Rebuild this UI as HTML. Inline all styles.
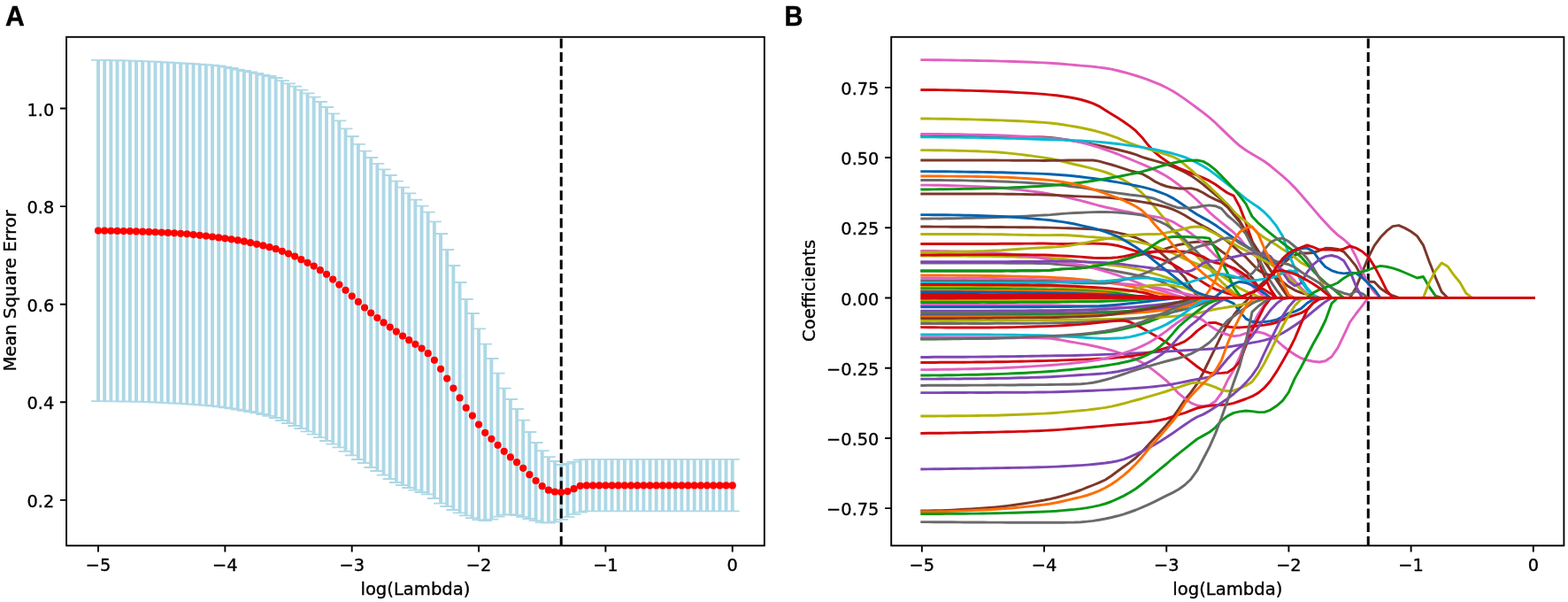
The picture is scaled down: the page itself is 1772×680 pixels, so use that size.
<!DOCTYPE html>
<html lang="en"><head><meta charset="utf-8"><title>LASSO regression: cross-validation error and coefficient paths</title>
<style>html,body{margin:0;padding:0;background:#fff}body{width:1772px;height:680px;overflow:hidden}svg{display:block}text{font-family:"DejaVu Sans","Liberation Sans",sans-serif;fill:#000;stroke:#000;stroke-width:0.35;stroke-linejoin:round}.pan{font-family:"Liberation Sans",Arial,Helvetica,sans-serif;font-weight:bold;font-size:30.2px;stroke:#000;stroke-width:0.4}.tk{font-size:19.6px}.lab{font-size:19.6px}.ln path{fill:none;stroke-width:2.95;stroke-linejoin:round;stroke-linecap:square}</style></head><body>
<svg width="1772" height="680" viewBox="0 0 1772 680">
<rect width="1772" height="680" fill="#fff"/>
<text class="pan" transform="translate(6.0 28.75) scale(1 1.02)">A</text>
<text class="pan" transform="translate(886.4 28.75) scale(0.96 1.02)">B</text>
<g>
<path d="M111 67.9V453.2M118.17 67.97V453.22M125.33 68.08V453.28M132.5 68.23V453.37M139.67 68.4V453.48M146.84 68.59V453.6M154 68.8V453.75M161.17 69.05V453.96M168.34 69.36V454.22M175.5 69.71V454.5M182.67 70.1V454.8M189.84 70.5V455.12M197.01 70.9V455.49M204.17 71.31V455.89M211.34 71.75V456.33M218.51 72.2V456.8M225.68 72.63V457.32M232.84 73.06V457.92M240.01 73.6V458.6M247.18 74.4V459.43M254.34 75.6V460.4M261.51 77V461.46M268.68 78.6V462.6M275.85 80V463.75M283.01 81.4V465M290.18 82.8V466.4M297.35 84.6V468M304.51 86V469.81M311.68 88V472M318.85 91.2V475M326.02 94.4V478M333.18 97.6V481M340.35 101.6V484M347.52 105.4V487.4M354.68 109.6V490.6M361.85 115V494.2M369.02 121V498M376.19 128.4V501.6M383.35 136.4V505.4M390.52 145.4V509.8M397.69 154V514.4M404.86 162.8V519M412.02 170.6V523M419.19 178V528M426.36 184.8V532M433.52 191.4V536.6M440.69 198V541M447.86 204.6V545M455.03 211.6V548M462.19 218.4V551M469.36 225.6V553.6M476.53 232.6V556M483.69 239.6V558.4M490.86 250.4V563M498.03 264V568.6M505.2 282V572M512.36 300V576M519.53 319V579.4M526.7 338V582.3M533.86 354V585.2M541.03 371.4V587.2M548.2 388.6V588.1M555.37 405V586.6M562.53 421.6V583.6M569.7 438.6V581.6M576.87 451V581.2M584.04 462V582M591.2 474.6V583.9M598.37 488V586M605.54 500V588.2M612.7 509.2V590.2M619.87 516.2V590.5M627.04 521V589.4M634.21 525V586.8M641.37 523.6V583.8M648.54 521.6V580.9M655.71 519.4V578.7M662.87 518.8V577.4M670.04 518.8V577.4M677.21 518.8V577.4M684.38 518.8V577.4M691.54 518.8V577.4M698.71 518.8V577.4M705.88 518.8V577.4M713.04 518.8V577.4M720.21 518.8V577.4M727.38 518.8V577.4M734.55 518.8V577.4M741.71 518.8V577.4M748.88 518.8V577.4M756.05 518.8V577.4M763.22 518.8V577.4M770.38 518.8V577.4M777.55 518.8V577.4M784.72 518.8V577.4M791.88 518.8V577.4M799.05 518.8V577.4M806.22 518.8V577.4M813.39 518.8V577.4M820.55 518.8V577.4M827.72 518.8V577.4" stroke="#add8e6" stroke-width="3.9" fill="none"/>
<path d="M103 67.9h16M103 453.2h16M110.17 67.97h16M110.17 453.22h16M117.33 68.08h16M117.33 453.28h16M124.5 68.23h16M124.5 453.37h16M131.67 68.4h16M131.67 453.48h16M138.84 68.59h16M138.84 453.6h16M146 68.8h16M146 453.75h16M153.17 69.05h16M153.17 453.96h16M160.34 69.36h16M160.34 454.22h16M167.5 69.71h16M167.5 454.5h16M174.67 70.1h16M174.67 454.8h16M181.84 70.5h16M181.84 455.12h16M189.01 70.9h16M189.01 455.49h16M196.17 71.31h16M196.17 455.89h16M203.34 71.75h16M203.34 456.33h16M210.51 72.2h16M210.51 456.8h16M217.68 72.63h16M217.68 457.32h16M224.84 73.06h16M224.84 457.92h16M232.01 73.6h16M232.01 458.6h16M239.18 74.4h16M239.18 459.43h16M246.34 75.6h16M246.34 460.4h16M253.51 77h16M253.51 461.46h16M260.68 78.6h16M260.68 462.6h16M267.85 80h16M267.85 463.75h16M275.01 81.4h16M275.01 465h16M282.18 82.8h16M282.18 466.4h16M289.35 84.6h16M289.35 468h16M296.51 86h16M296.51 469.81h16M303.68 88h16M303.68 472h16M310.85 91.2h16M310.85 475h16M318.02 94.4h16M318.02 478h16M325.18 97.6h16M325.18 481h16M332.35 101.6h16M332.35 484h16M339.52 105.4h16M339.52 487.4h16M346.68 109.6h16M346.68 490.6h16M353.85 115h16M353.85 494.2h16M361.02 121h16M361.02 498h16M368.19 128.4h16M368.19 501.6h16M375.35 136.4h16M375.35 505.4h16M382.52 145.4h16M382.52 509.8h16M389.69 154h16M389.69 514.4h16M396.86 162.8h16M396.86 519h16M404.02 170.6h16M404.02 523h16M411.19 178h16M411.19 528h16M418.36 184.8h16M418.36 532h16M425.52 191.4h16M425.52 536.6h16M432.69 198h16M432.69 541h16M439.86 204.6h16M439.86 545h16M447.03 211.6h16M447.03 548h16M454.19 218.4h16M454.19 551h16M461.36 225.6h16M461.36 553.6h16M468.53 232.6h16M468.53 556h16M475.69 239.6h16M475.69 558.4h16M482.86 250.4h16M482.86 563h16M490.03 264h16M490.03 568.6h16M497.2 282h16M497.2 572h16M504.36 300h16M504.36 576h16M511.53 319h16M511.53 579.4h16M518.7 338h16M518.7 582.3h16M525.86 354h16M525.86 585.2h16M533.03 371.4h16M533.03 587.2h16M540.2 388.6h16M540.2 588.1h16M547.37 405h16M547.37 586.6h16M554.53 421.6h16M554.53 583.6h16M561.7 438.6h16M561.7 581.6h16M568.87 451h16M568.87 581.2h16M576.04 462h16M576.04 582h16M583.2 474.6h16M583.2 583.9h16M590.37 488h16M590.37 586h16M597.54 500h16M597.54 588.2h16M604.7 509.2h16M604.7 590.2h16M611.87 516.2h16M611.87 590.5h16M619.04 521h16M619.04 589.4h16M626.21 525h16M626.21 586.8h16M633.37 523.6h16M633.37 583.8h16M640.54 521.6h16M640.54 580.9h16M647.71 519.4h16M647.71 578.7h16M654.87 518.8h16M654.87 577.4h16M662.04 518.8h16M662.04 577.4h16M669.21 518.8h16M669.21 577.4h16M676.38 518.8h16M676.38 577.4h16M683.54 518.8h16M683.54 577.4h16M690.71 518.8h16M690.71 577.4h16M697.88 518.8h16M697.88 577.4h16M705.04 518.8h16M705.04 577.4h16M712.21 518.8h16M712.21 577.4h16M719.38 518.8h16M719.38 577.4h16M726.55 518.8h16M726.55 577.4h16M733.71 518.8h16M733.71 577.4h16M740.88 518.8h16M740.88 577.4h16M748.05 518.8h16M748.05 577.4h16M755.22 518.8h16M755.22 577.4h16M762.38 518.8h16M762.38 577.4h16M769.55 518.8h16M769.55 577.4h16M776.72 518.8h16M776.72 577.4h16M783.88 518.8h16M783.88 577.4h16M791.05 518.8h16M791.05 577.4h16M798.22 518.8h16M798.22 577.4h16M805.39 518.8h16M805.39 577.4h16M812.55 518.8h16M812.55 577.4h16M819.72 518.8h16M819.72 577.4h16" stroke="#add8e6" stroke-width="1.8" fill="none"/>
</g>
<line x1="634.21" x2="634.21" y1="43.5" y2="616.35" stroke="#000" stroke-width="3" stroke-dasharray="10.9 4.72"/>
<g fill="#ff0000"><circle cx="111" cy="260.6" r="4.1"/><circle cx="118.17" cy="260.66" r="4.1"/><circle cx="125.33" cy="260.76" r="4.1"/><circle cx="132.5" cy="260.89" r="4.1"/><circle cx="139.67" cy="261.04" r="4.1"/><circle cx="146.84" cy="261.2" r="4.1"/><circle cx="154" cy="261.4" r="4.1"/><circle cx="161.17" cy="261.65" r="4.1"/><circle cx="168.34" cy="261.95" r="4.1"/><circle cx="175.5" cy="262.27" r="4.1"/><circle cx="182.67" cy="262.6" r="4.1"/><circle cx="189.84" cy="262.95" r="4.1"/><circle cx="197.01" cy="263.34" r="4.1"/><circle cx="204.17" cy="263.8" r="4.1"/><circle cx="211.34" cy="264.37" r="4.1"/><circle cx="218.51" cy="265.06" r="4.1"/><circle cx="225.68" cy="265.8" r="4.1"/><circle cx="232.84" cy="266.6" r="4.1"/><circle cx="240.01" cy="267.48" r="4.1"/><circle cx="247.18" cy="268.4" r="4.1"/><circle cx="254.34" cy="269.33" r="4.1"/><circle cx="261.51" cy="270.3" r="4.1"/><circle cx="268.68" cy="271.4" r="4.1"/><circle cx="275.85" cy="272.71" r="4.1"/><circle cx="283.01" cy="274.21" r="4.1"/><circle cx="290.18" cy="275.8" r="4.1"/><circle cx="297.35" cy="277.43" r="4.1"/><circle cx="304.51" cy="279.18" r="4.1"/><circle cx="311.68" cy="281.2" r="4.1"/><circle cx="318.85" cy="283.8" r="4.1"/><circle cx="326.02" cy="286.6" r="4.1"/><circle cx="333.18" cy="289.6" r="4.1"/><circle cx="340.35" cy="293.2" r="4.1"/><circle cx="347.52" cy="296.8" r="4.1"/><circle cx="354.68" cy="300.6" r="4.1"/><circle cx="361.85" cy="305.2" r="4.1"/><circle cx="369.02" cy="309.8" r="4.1"/><circle cx="376.19" cy="315.6" r="4.1"/><circle cx="383.35" cy="321.6" r="4.1"/><circle cx="390.52" cy="327.8" r="4.1"/><circle cx="397.69" cy="334.6" r="4.1"/><circle cx="404.86" cy="340.9" r="4.1"/><circle cx="412.02" cy="347.5" r="4.1"/><circle cx="419.19" cy="353.5" r="4.1"/><circle cx="426.36" cy="359" r="4.1"/><circle cx="433.52" cy="364.4" r="4.1"/><circle cx="440.69" cy="369.6" r="4.1"/><circle cx="447.86" cy="374.6" r="4.1"/><circle cx="455.03" cy="379.6" r="4.1"/><circle cx="462.19" cy="384.2" r="4.1"/><circle cx="469.36" cy="388.8" r="4.1"/><circle cx="476.53" cy="393.6" r="4.1"/><circle cx="483.69" cy="399.2" r="4.1"/><circle cx="490.86" cy="406.8" r="4.1"/><circle cx="498.03" cy="416.8" r="4.1"/><circle cx="505.2" cy="427.6" r="4.1"/><circle cx="512.36" cy="438.6" r="4.1"/><circle cx="519.53" cy="449.4" r="4.1"/><circle cx="526.7" cy="460.7" r="4.1"/><circle cx="533.86" cy="469.6" r="4.1"/><circle cx="541.03" cy="479.6" r="4.1"/><circle cx="548.2" cy="488.8" r="4.1"/><circle cx="555.37" cy="495.8" r="4.1"/><circle cx="562.53" cy="502.8" r="4.1"/><circle cx="569.7" cy="509.8" r="4.1"/><circle cx="576.87" cy="516.4" r="4.1"/><circle cx="584.04" cy="522.2" r="4.1"/><circle cx="591.2" cy="528.8" r="4.1"/><circle cx="598.37" cy="536.2" r="4.1"/><circle cx="605.54" cy="543" r="4.1"/><circle cx="612.7" cy="549.2" r="4.1"/><circle cx="619.87" cy="553.7" r="4.1"/><circle cx="627.04" cy="555.5" r="4.1"/><circle cx="634.21" cy="556.1" r="4.1"/><circle cx="641.37" cy="555.1" r="4.1"/><circle cx="648.54" cy="552.2" r="4.1"/><circle cx="655.71" cy="548.8" r="4.1"/><circle cx="662.87" cy="548.4" r="4.1"/><circle cx="670.04" cy="548.4" r="4.1"/><circle cx="677.21" cy="548.4" r="4.1"/><circle cx="684.38" cy="548.4" r="4.1"/><circle cx="691.54" cy="548.4" r="4.1"/><circle cx="698.71" cy="548.4" r="4.1"/><circle cx="705.88" cy="548.4" r="4.1"/><circle cx="713.04" cy="548.4" r="4.1"/><circle cx="720.21" cy="548.4" r="4.1"/><circle cx="727.38" cy="548.4" r="4.1"/><circle cx="734.55" cy="548.4" r="4.1"/><circle cx="741.71" cy="548.4" r="4.1"/><circle cx="748.88" cy="548.4" r="4.1"/><circle cx="756.05" cy="548.4" r="4.1"/><circle cx="763.22" cy="548.4" r="4.1"/><circle cx="770.38" cy="548.4" r="4.1"/><circle cx="777.55" cy="548.4" r="4.1"/><circle cx="784.72" cy="548.4" r="4.1"/><circle cx="791.88" cy="548.4" r="4.1"/><circle cx="799.05" cy="548.4" r="4.1"/><circle cx="806.22" cy="548.4" r="4.1"/><circle cx="813.39" cy="548.4" r="4.1"/><circle cx="820.55" cy="548.4" r="4.1"/><circle cx="827.72" cy="548.4" r="4.1"/></g>
<rect x="75.05" y="41.78" width="788.8" height="574.57" fill="none" stroke="#000" stroke-width="1.9"/>
<path d="M111 616.35v7.1M254.34 616.35v7.1M397.69 616.35v7.1M541.03 616.35v7.1M684.38 616.35v7.1M827.72 616.35v7.1M75.05 564.9h-7.1M75.05 454.3h-7.1M75.05 343.7h-7.1M75.05 233.1h-7.1M75.05 122.5h-7.1" stroke="#000" stroke-width="1.9" fill="none"/>
<text class="tk" transform="translate(111 645.3) scale(0.987 1.025)" text-anchor="middle">−5</text>
<text class="tk" transform="translate(254.34 645.3) scale(0.987 1.025)" text-anchor="middle">−4</text>
<text class="tk" transform="translate(397.69 645.3) scale(0.987 1.025)" text-anchor="middle">−3</text>
<text class="tk" transform="translate(541.03 645.3) scale(0.987 1.025)" text-anchor="middle">−2</text>
<text class="tk" transform="translate(684.38 645.3) scale(0.987 1.025)" text-anchor="middle">−1</text>
<text class="tk" transform="translate(827.72 645.3) scale(0.987 1.025)" text-anchor="middle">0</text>
<text class="tk" transform="translate(61.25 572.9) scale(0.987 1.025)" text-anchor="end">0.2</text>
<text class="tk" transform="translate(61.25 462.3) scale(0.987 1.025)" text-anchor="end">0.4</text>
<text class="tk" transform="translate(61.25 351.7) scale(0.987 1.025)" text-anchor="end">0.6</text>
<text class="tk" transform="translate(61.25 241.1) scale(0.987 1.025)" text-anchor="end">0.8</text>
<text class="tk" transform="translate(61.25 130.5) scale(0.987 1.025)" text-anchor="end">1.0</text>
<text class="lab" transform="translate(469.45 671.5) scale(1 1.02)" text-anchor="middle">log(Lambda)</text>
<text class="lab" transform="translate(18.3 328.37) rotate(-90) scale(1 1.02)" text-anchor="middle">Mean Square Error</text>
<line x1="1546.24" x2="1546.24" y1="43.5" y2="616.35" stroke="#000" stroke-width="3" stroke-dasharray="10.9 4.72"/>
<g class="ln">
<path d="M1041.8 153.3L1048.8 153.4L1055.7 153.4L1062.6 153.5L1069.5 153.5L1076.4 153.6L1083.3 153.7L1090.2 153.7L1097.1 153.8L1104.0 153.9L1110.9 154.0L1117.9 154.0L1124.8 154.1L1131.7 154.2L1138.6 154.3L1145.5 154.3L1152.4 154.4L1159.3 154.5L1166.2 154.7L1173.1 154.8L1180.0 155.0L1186.9 155.4L1193.9 156.2L1200.8 157.2L1207.7 158.3L1214.6 159.4L1221.5 160.5L1228.4 161.7L1235.3 163.1L1242.2 164.5L1249.1 166.0L1256.0 167.5L1263.0 169.0L1269.9 170.7L1276.8 172.5L1283.7 174.6L1290.6 177.3L1297.5 179.5L1304.4 181.4L1311.3 183.3L1318.2 185.5L1325.1 188.2L1332.0 191.1L1339.0 194.5L1345.9 198.4L1352.8 203.1L1359.7 208.4L1366.6 214.2L1373.5 219.8L1380.4 225.3L1387.3 231.0L1394.2 238.9L1401.1 249.9L1408.1 261.6L1415.0 273.1L1421.9 283.4L1428.8 293.8L1435.7 305.1L1442.6 316.4L1449.5 326.8L1456.4 336.5L1732.8 336.5" stroke="#7c382a"/>
<path d="M1041.8 577.0L1048.8 577.0L1055.7 576.8L1062.6 576.6L1069.5 576.4L1076.4 576.1L1083.3 575.7L1090.2 575.3L1097.1 574.9L1104.0 574.4L1110.9 574.0L1117.9 573.5L1124.8 572.9L1131.7 572.2L1138.6 571.4L1145.5 570.5L1152.4 569.5L1159.3 568.5L1166.2 567.4L1173.1 566.2L1180.0 565.0L1186.9 563.6L1193.9 562.0L1200.8 560.1L1207.7 558.1L1214.6 556.0L1221.5 553.5L1228.4 550.7L1235.3 548.0L1242.2 545.2L1249.1 542.0L1256.0 537.5L1263.0 532.3L1269.9 527.3L1276.8 522.4L1283.7 517.0L1290.6 510.3L1297.5 502.7L1304.4 495.3L1311.3 487.8L1318.2 480.0L1325.1 471.8L1332.0 462.1L1339.0 451.5L1345.9 443.2L1352.8 433.7L1359.7 421.0L1366.6 406.8L1373.5 392.8L1380.4 378.6L1387.3 366.5L1394.2 356.0L1401.1 347.1L1408.1 340.3L1415.0 332.8L1421.9 324.0L1428.8 317.5L1435.7 311.6L1442.6 305.3L1449.5 298.5L1456.4 292.4L1463.3 288.4L1470.2 285.9L1477.1 286.0L1484.1 285.5L1491.0 283.0L1497.9 280.3L1504.8 280.4L1511.7 281.4L1518.6 284.3L1525.5 292.1L1532.4 300.7L1539.3 313.1L1546.2 318.0L1553.2 318.5L1560.1 325.8L1567.0 330.5L1573.9 334.0L1580.8 336.5L1732.8 336.5" stroke="#7c382a"/>
<path d="M1041.8 382.8L1048.8 382.8L1055.7 382.7L1062.6 382.7L1069.5 382.7L1076.4 382.6L1083.3 382.6L1090.2 382.5L1097.1 382.4L1104.0 382.4L1110.9 382.3L1117.9 382.2L1124.8 382.0L1131.7 381.9L1138.6 381.8L1145.5 381.7L1152.4 381.5L1159.3 381.4L1166.2 381.2L1173.1 381.0L1180.0 380.9L1186.9 380.6L1193.9 380.3L1200.8 379.9L1207.7 379.4L1214.6 378.9L1221.5 378.2L1228.4 377.5L1235.3 376.8L1242.2 376.0L1249.1 375.2L1256.0 374.2L1263.0 373.0L1269.9 371.5L1276.8 369.9L1283.7 368.2L1290.6 366.2L1297.5 363.8L1304.4 361.1L1311.3 358.4L1318.2 355.5L1325.1 352.5L1332.0 349.3L1339.0 346.1L1345.9 342.8L1352.8 339.7L1359.7 336.5L1732.8 336.5" stroke="#089816"/>
<path d="M1041.8 381.0L1048.8 381.0L1055.7 381.0L1062.6 381.0L1069.5 381.1L1076.4 381.1L1083.3 381.1L1090.2 381.1L1097.1 381.1L1104.0 381.2L1110.9 381.2L1117.9 381.2L1124.8 381.2L1131.7 381.3L1138.6 381.4L1145.5 381.4L1152.4 381.5L1159.3 381.6L1166.2 381.7L1173.1 381.9L1180.0 382.0L1186.9 382.4L1193.9 383.3L1200.8 384.4L1207.7 385.7L1214.6 386.9L1221.5 388.1L1228.4 389.3L1235.3 390.7L1242.2 392.2L1249.1 393.9L1256.0 395.7L1263.0 397.8L1269.9 400.2L1276.8 402.9L1283.7 405.9L1290.6 409.5L1297.5 413.9L1304.4 418.9L1311.3 424.3L1318.2 430.0L1325.1 436.9L1332.0 444.4L1339.0 450.2L1345.9 455.1L1352.8 458.0L1359.7 458.9L1366.6 457.8L1373.5 453.3L1380.4 444.0L1387.3 429.6L1394.2 417.9L1401.1 403.2L1408.1 384.0L1415.0 368.2L1421.9 354.8L1428.8 344.7L1435.7 337.7L1442.6 336.5L1732.8 336.5" stroke="#e160c0"/>
<path d="M1041.8 296.9L1048.8 296.9L1055.7 296.9L1062.6 296.9L1069.5 296.9L1076.4 296.9L1083.3 297.0L1090.2 297.0L1097.1 297.0L1104.0 297.0L1110.9 297.0L1117.9 297.1L1124.8 297.1L1131.7 297.1L1138.6 297.2L1145.5 297.2L1152.4 297.3L1159.3 297.3L1166.2 297.4L1173.1 297.5L1180.0 297.6L1186.9 297.9L1193.9 298.5L1200.8 299.0L1207.7 299.6L1214.6 300.2L1221.5 300.9L1228.4 301.6L1235.3 302.4L1242.2 303.3L1249.1 304.3L1256.0 305.4L1263.0 306.7L1269.9 308.0L1276.8 309.3L1283.7 310.7L1290.6 312.1L1297.5 313.4L1304.4 315.3L1311.3 317.7L1318.2 320.7L1325.1 324.4L1332.0 328.6L1339.0 332.5L1345.9 336.5L1732.8 336.5" stroke="#6a6a6a"/>
<path d="M1041.8 306.0L1110.9 306.0L1117.9 306.0L1124.8 306.0L1131.7 306.0L1138.6 305.9L1145.5 305.9L1152.4 305.8L1159.3 305.8L1166.2 305.7L1173.1 305.7L1180.0 305.6L1186.9 305.2L1193.9 304.5L1200.8 303.9L1207.7 303.6L1214.6 303.3L1221.5 302.8L1228.4 302.0L1235.3 300.9L1242.2 299.7L1249.1 298.4L1256.0 296.9L1263.0 295.3L1269.9 293.5L1276.8 291.4L1283.7 289.0L1290.6 287.3L1297.5 286.0L1304.4 284.4L1311.3 282.6L1318.2 280.6L1325.1 278.4L1332.0 276.5L1339.0 275.2L1345.9 273.9L1352.8 273.3L1359.7 273.1L1366.6 273.3L1373.5 278.6L1380.4 283.9L1387.3 288.7L1394.2 294.3L1401.1 300.5L1408.1 306.3L1415.0 313.7L1421.9 323.8L1428.8 336.5L1525.5 336.5L1532.4 325.0L1539.3 307.9L1546.2 291.0L1553.2 277.3L1560.1 268.1L1567.0 260.9L1573.9 255.6L1580.8 254.6L1587.7 257.6L1594.6 261.5L1601.5 266.6L1608.4 276.8L1615.3 295.7L1622.2 313.3L1629.2 329.6L1636.1 336.5L1732.8 336.5" stroke="#7c382a"/>
<path d="M1041.8 289.0L1048.8 289.0L1055.7 289.0L1062.6 289.0L1069.5 289.0L1076.4 289.1L1083.3 289.1L1090.2 289.1L1097.1 289.2L1104.0 289.2L1110.9 289.3L1117.9 289.4L1124.8 289.5L1131.7 289.6L1138.6 289.8L1145.5 289.9L1152.4 290.2L1159.3 290.4L1166.2 290.6L1173.1 290.9L1180.0 291.2L1186.9 291.5L1193.9 292.0L1200.8 292.5L1207.7 293.3L1214.6 294.2L1221.5 295.2L1228.4 296.3L1235.3 297.4L1242.2 298.3L1249.1 298.9L1256.0 299.6L1263.0 300.4L1269.9 301.3L1276.8 302.4L1283.7 303.7L1290.6 305.4L1297.5 307.3L1304.4 309.2L1311.3 311.2L1318.2 313.4L1325.1 315.8L1332.0 318.6L1339.0 322.0L1345.9 325.9L1352.8 330.2L1359.7 334.6L1366.6 336.5L1732.8 336.5" stroke="#b2b204"/>
<path d="M1041.8 67.6L1048.8 67.6L1055.7 67.7L1062.6 67.8L1069.5 67.9L1076.4 68.0L1083.3 68.1L1090.2 68.2L1097.1 68.3L1104.0 68.5L1110.9 68.6L1117.9 68.7L1124.8 68.9L1131.7 69.1L1138.6 69.3L1145.5 69.5L1152.4 69.8L1159.3 70.0L1166.2 70.3L1173.1 70.6L1180.0 70.9L1186.9 71.3L1193.9 71.8L1200.8 72.3L1207.7 72.9L1214.6 73.5L1221.5 74.1L1228.4 74.6L1235.3 75.3L1242.2 76.1L1249.1 77.0L1256.0 78.1L1263.0 79.7L1269.9 81.5L1276.8 83.4L1283.7 85.5L1290.6 87.7L1297.5 90.1L1304.4 92.8L1311.3 95.7L1318.2 99.0L1325.1 102.7L1332.0 107.1L1339.0 111.9L1345.9 116.9L1352.8 122.0L1359.7 127.1L1366.6 132.7L1373.5 138.7L1380.4 145.4L1387.3 152.1L1394.2 158.6L1401.1 164.8L1408.1 169.8L1415.0 174.0L1421.9 178.1L1428.8 182.2L1435.7 187.3L1442.6 193.1L1449.5 198.8L1456.4 205.0L1463.3 212.1L1470.2 219.8L1477.1 227.7L1484.1 235.9L1491.0 244.0L1497.9 251.6L1504.8 258.9L1511.7 265.4L1518.6 270.5L1525.5 276.9L1532.4 290.0L1539.3 305.7L1546.2 321.0L1553.2 330.2L1560.1 336.5L1732.8 336.5" stroke="#e160c0"/>
<path d="M1041.8 101.4L1048.8 101.4L1055.7 101.5L1062.6 101.6L1069.5 101.7L1076.4 101.9L1083.3 102.0L1090.2 102.2L1097.1 102.4L1104.0 102.6L1110.9 102.8L1117.9 103.0L1124.8 103.3L1131.7 103.5L1138.6 103.8L1145.5 104.2L1152.4 104.6L1159.3 105.0L1166.2 105.4L1173.1 105.9L1180.0 106.4L1186.9 107.1L1193.9 107.8L1200.8 108.7L1207.7 109.8L1214.6 111.0L1221.5 112.5L1228.4 114.5L1235.3 116.9L1242.2 120.1L1249.1 124.5L1256.0 128.8L1263.0 133.1L1269.9 137.5L1276.8 142.4L1283.7 147.9L1290.6 155.2L1297.5 163.8L1304.4 171.4L1311.3 177.1L1318.2 182.0L1325.1 186.4L1332.0 189.9L1339.0 192.6L1345.9 195.3L1352.8 198.0L1359.7 200.9L1366.6 204.2L1373.5 208.3L1380.4 213.3L1387.3 218.0L1394.2 221.1L1401.1 233.9L1408.1 252.0L1415.0 272.3L1421.9 294.4L1428.8 311.8L1435.7 326.7L1442.6 336.5L1732.8 336.5" stroke="#d2060e"/>
<path d="M1041.8 134.0L1048.8 134.0L1055.7 134.1L1062.6 134.2L1069.5 134.3L1076.4 134.4L1083.3 134.6L1090.2 134.7L1097.1 134.9L1104.0 135.1L1110.9 135.3L1117.9 135.5L1124.8 135.7L1131.7 135.9L1138.6 136.2L1145.5 136.5L1152.4 136.8L1159.3 137.1L1166.2 137.5L1173.1 138.0L1180.0 138.4L1186.9 139.0L1193.9 139.8L1200.8 140.8L1207.7 141.9L1214.6 143.0L1221.5 144.3L1228.4 145.7L1235.3 147.3L1242.2 149.1L1249.1 151.0L1256.0 153.3L1263.0 155.9L1269.9 158.8L1276.8 161.6L1283.7 164.1L1290.6 166.3L1297.5 168.3L1304.4 170.3L1311.3 172.4L1318.2 174.5L1325.1 176.8L1332.0 180.2L1339.0 186.1L1345.9 191.9L1352.8 198.0L1359.7 204.3L1366.6 210.7L1373.5 217.3L1380.4 223.9L1387.3 231.0L1394.2 239.2L1401.1 245.2L1408.1 250.4L1415.0 256.7L1421.9 263.4L1428.8 268.5L1435.7 272.4L1442.6 276.8L1449.5 281.6L1456.4 285.8L1463.3 290.6L1470.2 296.6L1477.1 300.1L1484.1 303.7L1491.0 314.0L1497.9 327.0L1504.8 336.5L1732.8 336.5" stroke="#b2b204"/>
<path d="M1041.8 151.4L1048.8 151.4L1055.7 151.5L1062.6 151.5L1069.5 151.6L1076.4 151.7L1083.3 151.8L1090.2 152.0L1097.1 152.1L1104.0 152.2L1110.9 152.4L1117.9 152.5L1124.8 152.7L1131.7 153.0L1138.6 153.3L1145.5 153.6L1152.4 153.9L1159.3 154.3L1166.2 154.7L1173.1 155.1L1180.0 155.6L1186.9 156.1L1193.9 156.7L1200.8 157.5L1207.7 158.4L1214.6 159.4L1221.5 160.8L1228.4 162.5L1235.3 164.5L1242.2 166.7L1249.1 169.0L1256.0 171.4L1263.0 174.0L1269.9 176.8L1276.8 179.7L1283.7 182.5L1290.6 185.3L1297.5 188.3L1304.4 191.6L1311.3 195.1L1318.2 199.0L1325.1 203.6L1332.0 208.7L1339.0 214.1L1345.9 219.9L1352.8 226.0L1359.7 232.8L1366.6 239.6L1373.5 245.6L1380.4 251.3L1387.3 257.0L1394.2 262.7L1401.1 269.3L1408.1 278.2L1415.0 282.7L1421.9 286.2L1428.8 290.4L1435.7 295.4L1442.6 300.1L1449.5 304.8L1456.4 310.3L1463.3 317.4L1470.2 325.0L1477.1 332.0L1484.1 336.5L1732.8 336.5" stroke="#e160c0"/>
<path d="M1041.8 154.8L1048.8 154.8L1055.7 154.9L1062.6 154.9L1069.5 155.0L1076.4 155.1L1083.3 155.1L1090.2 155.2L1097.1 155.3L1104.0 155.4L1110.9 155.6L1117.9 155.7L1124.8 155.8L1131.7 156.0L1138.6 156.2L1145.5 156.4L1152.4 156.6L1159.3 156.8L1166.2 157.0L1173.1 157.2L1180.0 157.5L1186.9 157.7L1193.9 157.9L1200.8 158.1L1207.7 158.3L1214.6 158.6L1221.5 159.0L1228.4 159.4L1235.3 159.9L1242.2 160.4L1249.1 161.0L1256.0 161.7L1263.0 162.5L1269.9 163.4L1276.8 164.4L1283.7 165.4L1290.6 166.4L1297.5 167.6L1304.4 168.8L1311.3 170.1L1318.2 171.6L1325.1 173.3L1332.0 175.3L1339.0 177.6L1345.9 180.5L1352.8 184.0L1359.7 187.8L1366.6 192.1L1373.5 197.1L1380.4 202.5L1387.3 208.0L1394.2 213.4L1401.1 218.9L1408.1 224.6L1415.0 229.4L1421.9 234.0L1428.8 239.7L1435.7 246.8L1442.6 255.4L1449.5 266.8L1456.4 287.1L1463.3 302.7L1470.2 317.5L1477.1 327.1L1484.1 334.1L1491.0 336.5L1732.8 336.5" stroke="#02bad2"/>
<path d="M1041.8 169.6L1048.8 169.6L1055.7 169.7L1062.6 169.8L1069.5 169.9L1076.4 170.0L1083.3 170.2L1090.2 170.4L1097.1 170.6L1104.0 170.8L1110.9 171.1L1117.9 171.4L1124.8 171.8L1131.7 172.3L1138.6 172.9L1145.5 173.6L1152.4 174.4L1159.3 175.2L1166.2 176.1L1173.1 177.1L1180.0 178.1L1186.9 179.2L1193.9 180.7L1200.8 182.3L1207.7 184.0L1214.6 185.7L1221.5 187.3L1228.4 188.9L1235.3 190.6L1242.2 192.4L1249.1 194.5L1256.0 197.0L1263.0 200.0L1269.9 203.4L1276.8 207.5L1283.7 212.4L1290.6 218.0L1297.5 225.3L1304.4 233.3L1311.3 241.6L1318.2 249.6L1325.1 260.2L1332.0 267.0L1339.0 274.2L1345.9 282.0L1352.8 289.6L1359.7 296.6L1366.6 303.4L1373.5 311.4L1380.4 318.3L1387.3 324.6L1394.2 330.6L1401.1 336.5L1732.8 336.5" stroke="#b2b204"/>
<path d="M1041.8 181.0L1110.9 181.0L1117.9 181.0L1124.8 181.0L1131.7 181.1L1138.6 181.1L1145.5 181.2L1152.4 181.2L1159.3 181.3L1166.2 181.3L1173.1 181.4L1180.0 181.4L1186.9 181.3L1193.9 181.2L1200.8 181.1L1207.7 181.0L1214.6 181.0L1235.3 181.0L1242.2 182.1L1249.1 184.1L1256.0 186.0L1263.0 188.1L1269.9 190.4L1276.8 192.6L1283.7 194.5L1290.6 196.2L1297.5 200.1L1304.4 204.6L1311.3 208.0L1318.2 210.5L1325.1 212.0L1332.0 212.9L1339.0 212.9L1345.9 212.6L1352.8 214.4L1359.7 217.8L1366.6 222.0L1373.5 225.4L1380.4 228.4L1387.3 234.0L1394.2 242.6L1401.1 250.9L1408.1 262.2L1415.0 273.1L1421.9 284.0L1428.8 295.3L1435.7 305.2L1442.6 315.3L1449.5 325.7L1456.4 336.5L1732.8 336.5" stroke="#7c382a"/>
<path d="M1041.8 193.6L1048.8 193.6L1055.7 193.7L1062.6 193.7L1069.5 193.8L1076.4 193.9L1083.3 194.0L1090.2 194.1L1097.1 194.2L1104.0 194.3L1110.9 194.4L1117.9 194.5L1124.8 194.7L1131.7 194.8L1138.6 195.0L1145.5 195.2L1152.4 195.4L1159.3 195.6L1166.2 195.9L1173.1 196.1L1180.0 196.4L1186.9 196.8L1193.9 197.2L1200.8 197.7L1207.7 198.3L1214.6 199.0L1221.5 199.7L1228.4 200.6L1235.3 201.5L1242.2 202.5L1249.1 203.6L1256.0 204.7L1263.0 205.9L1269.9 207.1L1276.8 208.4L1283.7 209.7L1290.6 211.1L1297.5 212.9L1304.4 214.9L1311.3 217.3L1318.2 220.0L1325.1 223.6L1332.0 228.0L1339.0 232.7L1345.9 237.8L1352.8 242.3L1359.7 246.1L1366.6 249.9L1373.5 254.3L1380.4 259.1L1387.3 264.0L1394.2 269.0L1401.1 273.8L1408.1 278.0L1415.0 282.0L1421.9 286.0L1428.8 290.1L1435.7 295.8L1442.6 297.6L1449.5 294.6L1456.4 289.9L1463.3 283.7L1470.2 280.7L1477.1 280.1L1484.1 284.1L1491.0 293.8L1497.9 301.4L1504.8 305.6L1511.7 307.9L1518.6 308.9L1525.5 308.3L1532.4 308.5L1539.3 313.5L1546.2 320.0L1553.2 327.0L1560.1 336.5L1732.8 336.5" stroke="#0462ae"/>
<path d="M1041.8 203.4L1048.8 203.4L1055.7 203.5L1062.6 203.5L1069.5 203.6L1076.4 203.7L1083.3 203.8L1090.2 203.9L1097.1 204.1L1104.0 204.2L1110.9 204.4L1117.9 204.5L1124.8 204.7L1131.7 205.0L1138.6 205.3L1145.5 205.6L1152.4 205.9L1159.3 206.3L1166.2 206.7L1173.1 207.1L1180.0 207.6L1186.9 208.1L1193.9 208.7L1200.8 209.4L1207.7 210.2L1214.6 211.0L1221.5 211.9L1228.4 212.9L1235.3 214.0L1242.2 215.1L1249.1 216.1L1256.0 217.1L1263.0 218.1L1269.9 219.0L1276.8 220.0L1283.7 220.8L1290.6 221.6L1297.5 222.7L1304.4 224.3L1311.3 227.0L1318.2 230.0L1325.1 232.7L1332.0 234.8L1339.0 235.0L1345.9 234.6L1352.8 234.0L1359.7 232.6L1366.6 231.9L1373.5 232.7L1380.4 235.6L1387.3 243.5L1394.2 249.2L1401.1 255.7L1408.1 264.6L1415.0 278.0L1421.9 290.2L1428.8 304.9L1435.7 317.6L1442.6 327.7L1449.5 336.5L1732.8 336.5" stroke="#6a6a6a"/>
<path d="M1041.8 209.1L1048.8 209.1L1055.7 209.2L1062.6 209.3L1069.5 209.5L1076.4 209.7L1083.3 209.9L1090.2 210.2L1097.1 210.4L1104.0 210.7L1110.9 211.0L1117.9 211.4L1124.8 211.8L1131.7 212.3L1138.6 213.0L1145.5 213.7L1152.4 214.4L1159.3 215.2L1166.2 216.1L1173.1 217.0L1180.0 218.0L1186.9 219.1L1193.9 220.4L1200.8 221.8L1207.7 223.4L1214.6 225.0L1221.5 226.6L1228.4 228.5L1235.3 230.4L1242.2 232.3L1249.1 234.0L1256.0 235.5L1263.0 237.0L1269.9 238.5L1276.8 239.8L1283.7 241.1L1290.6 242.3L1297.5 243.5L1304.4 244.6L1311.3 245.9L1318.2 247.6L1325.1 250.3L1332.0 254.4L1339.0 258.7L1345.9 263.6L1352.8 269.1L1359.7 274.9L1366.6 281.7L1373.5 288.8L1380.4 294.4L1387.3 299.7L1394.2 304.5L1401.1 309.8L1408.1 315.9L1415.0 323.0L1421.9 329.4L1428.8 335.3L1435.7 336.5L1732.8 336.5" stroke="#e160c0"/>
<path d="M1041.8 214.0L1048.8 214.0L1055.7 213.9L1062.6 213.8L1069.5 213.7L1076.4 213.6L1083.3 213.5L1090.2 213.4L1097.1 213.2L1104.0 213.1L1110.9 212.9L1117.9 212.7L1124.8 212.5L1131.7 212.3L1138.6 212.1L1145.5 211.8L1152.4 211.5L1159.3 211.2L1166.2 210.8L1173.1 210.5L1180.0 210.1L1186.9 209.6L1193.9 209.1L1200.8 208.4L1207.7 207.8L1214.6 207.0L1221.5 206.2L1228.4 205.3L1235.3 204.2L1242.2 203.1L1249.1 202.0L1256.0 200.8L1263.0 199.6L1269.9 198.3L1276.8 196.9L1283.7 195.5L1290.6 193.9L1297.5 192.0L1304.4 190.0L1311.3 187.9L1318.2 186.0L1325.1 184.3L1332.0 182.7L1339.0 181.6L1345.9 181.2L1352.8 181.0L1359.7 182.4L1366.6 186.3L1373.5 191.9L1380.4 198.7L1387.3 206.0L1394.2 213.3L1401.1 221.3L1408.1 230.4L1415.0 244.5L1421.9 251.8L1428.8 257.8L1435.7 263.6L1442.6 269.2L1449.5 274.6L1456.4 279.7L1463.3 284.6L1470.2 290.0L1477.1 297.7L1484.1 306.0L1491.0 313.2L1497.9 319.4L1504.8 324.9L1511.7 330.8L1518.6 336.5L1732.8 336.5" stroke="#089816"/>
<path d="M1041.8 219.0L1110.9 219.0L1117.9 219.0L1124.8 219.0L1131.7 219.1L1138.6 219.2L1145.5 219.3L1152.4 219.4L1159.3 219.5L1166.2 219.7L1173.1 219.8L1180.0 220.0L1186.9 220.2L1193.9 220.5L1200.8 220.9L1207.7 221.3L1214.6 221.6L1221.5 221.9L1228.4 222.1L1235.3 222.4L1242.2 222.7L1249.1 223.0L1256.0 223.6L1263.0 224.3L1269.9 225.1L1276.8 226.0L1283.7 227.0L1290.6 228.1L1297.5 229.3L1304.4 230.6L1311.3 232.2L1318.2 234.0L1325.1 236.4L1332.0 239.5L1339.0 243.2L1345.9 247.5L1352.8 251.5L1359.7 255.2L1366.6 259.0L1373.5 263.2L1380.4 267.8L1387.3 272.9L1394.2 278.6L1401.1 284.9L1408.1 290.7L1415.0 297.9L1421.9 305.0L1428.8 309.4L1435.7 310.7L1442.6 313.6L1449.5 318.5L1456.4 323.8L1463.3 327.8L1470.2 330.6L1477.1 332.7L1484.1 335.2L1491.0 336.5L1732.8 336.5" stroke="#7c382a"/>
<path d="M1041.8 247.0L1048.8 247.0L1055.7 246.9L1062.6 246.9L1069.5 246.8L1076.4 246.7L1083.3 246.6L1090.2 246.4L1097.1 246.3L1104.0 246.1L1110.9 246.0L1117.9 245.8L1124.8 245.6L1131.7 245.4L1138.6 245.1L1145.5 244.8L1152.4 244.5L1159.3 244.1L1166.2 243.8L1173.1 243.4L1180.0 243.0L1186.9 242.6L1193.9 242.0L1200.8 241.4L1207.7 240.9L1214.6 240.5L1221.5 240.2L1228.4 239.9L1235.3 239.6L1242.2 239.5L1249.1 239.4L1256.0 239.6L1263.0 240.0L1269.9 240.6L1276.8 241.3L1283.7 242.1L1290.6 243.1L1297.5 245.2L1304.4 247.8L1311.3 250.6L1318.2 254.0L1325.1 258.8L1332.0 264.7L1339.0 270.9L1345.9 277.8L1352.8 284.7L1359.7 291.7L1366.6 299.2L1373.5 306.8L1380.4 310.6L1387.3 312.5L1394.2 313.5L1401.1 313.1L1408.1 311.8L1415.0 309.0L1421.9 301.1L1428.8 282.1L1435.7 273.8L1442.6 270.2L1449.5 269.0L1456.4 272.8L1463.3 278.5L1470.2 284.3L1477.1 291.8L1484.1 302.0L1491.0 314.0L1497.9 320.0L1504.8 325.3L1511.7 328.7L1518.6 331.2L1525.5 333.0L1532.4 328.8L1539.3 331.5L1546.2 336.5L1732.8 336.5" stroke="#6a6a6a"/>
<path d="M1041.8 256.0L1048.8 256.0L1055.7 256.1L1062.6 256.1L1069.5 256.1L1076.4 256.2L1083.3 256.2L1090.2 256.3L1097.1 256.3L1104.0 256.3L1110.9 256.4L1117.9 256.4L1124.8 256.5L1131.7 256.5L1138.6 256.6L1145.5 256.6L1152.4 256.7L1159.3 256.7L1166.2 256.8L1173.1 256.9L1180.0 257.0L1186.9 257.1L1193.9 257.4L1200.8 257.6L1207.7 257.8L1214.6 258.0L1221.5 258.2L1228.4 258.5L1235.3 258.9L1242.2 259.5L1249.1 260.3L1256.0 261.4L1263.0 262.9L1269.9 264.5L1276.8 266.3L1283.7 268.5L1290.6 271.5L1297.5 275.4L1304.4 279.8L1311.3 285.1L1318.2 291.3L1325.1 298.6L1332.0 306.2L1339.0 313.6L1345.9 324.3L1352.8 334.5L1359.7 336.5L1732.8 336.5" stroke="#7c382a"/>
<path d="M1041.8 264.4L1048.8 264.4L1055.7 264.4L1062.6 264.4L1069.5 264.4L1076.4 264.5L1083.3 264.5L1090.2 264.5L1097.1 264.5L1104.0 264.5L1110.9 264.6L1117.9 264.6L1124.8 264.7L1131.7 264.8L1138.6 265.0L1145.5 265.1L1152.4 265.3L1159.3 265.4L1166.2 265.5L1173.1 265.6L1180.0 265.6L1186.9 265.6L1193.9 265.5L1200.8 265.5L1207.7 265.7L1214.6 266.2L1221.5 266.8L1228.4 267.4L1235.3 267.8L1242.2 268.4L1249.1 268.9L1256.0 269.6L1263.0 270.3L1269.9 271.1L1276.8 272.0L1283.7 273.1L1290.6 274.3L1297.5 275.9L1304.4 277.8L1311.3 280.4L1318.2 283.3L1325.1 286.0L1332.0 289.0L1339.0 292.6L1345.9 295.4L1352.8 298.1L1359.7 300.9L1366.6 303.5L1373.5 306.9L1380.4 311.3L1387.3 316.1L1394.2 321.2L1401.1 325.7L1408.1 329.1L1415.0 332.0L1421.9 334.9L1428.8 336.5L1732.8 336.5" stroke="#b2b204"/>
<path d="M1041.8 275.4L1110.9 275.4L1117.9 275.4L1124.8 275.4L1131.7 275.3L1138.6 275.3L1145.5 275.2L1152.4 275.2L1159.3 275.1L1166.2 275.1L1173.1 275.0L1180.0 275.0L1186.9 275.2L1193.9 275.4L1200.8 275.5L1207.7 275.4L1214.6 275.3L1221.5 275.1L1228.4 275.0L1235.3 275.1L1242.2 275.2L1249.1 275.5L1256.0 276.2L1263.0 277.5L1269.9 279.4L1276.8 281.5L1283.7 283.6L1290.6 285.7L1297.5 288.1L1304.4 290.3L1311.3 292.5L1318.2 295.2L1325.1 298.4L1332.0 302.3L1339.0 307.3L1345.9 311.0L1352.8 314.6L1359.7 318.9L1366.6 323.2L1373.5 326.6L1380.4 329.1L1387.3 331.3L1394.2 333.3L1401.1 335.1L1408.1 336.3L1415.0 336.5L1732.8 336.5" stroke="#d2060e"/>
<path d="M1041.8 283.4L1048.8 283.4L1055.7 283.5L1062.6 283.6L1069.5 283.7L1076.4 283.9L1083.3 284.0L1090.2 284.2L1097.1 284.5L1104.0 284.7L1110.9 285.0L1117.9 285.3L1124.8 285.7L1131.7 286.2L1138.6 286.8L1145.5 287.4L1152.4 288.2L1159.3 289.0L1166.2 289.9L1173.1 290.9L1180.0 292.0L1186.9 293.6L1193.9 295.6L1200.8 297.1L1207.7 297.8L1214.6 298.4L1221.5 299.2L1228.4 300.7L1235.3 302.7L1242.2 304.6L1249.1 306.6L1256.0 308.7L1263.0 310.9L1269.9 313.3L1276.8 315.8L1283.7 318.5L1290.6 321.3L1297.5 323.9L1304.4 326.0L1311.3 328.1L1318.2 330.2L1325.1 332.3L1332.0 334.4L1339.0 336.5L1732.8 336.5" stroke="#e160c0"/>
<path d="M1041.8 285.0L1048.8 284.9L1055.7 284.9L1062.6 284.8L1069.5 284.7L1076.4 284.5L1083.3 284.4L1090.2 284.2L1097.1 284.0L1104.0 283.8L1110.9 283.6L1117.9 283.3L1124.8 283.0L1131.7 282.7L1138.6 282.2L1145.5 281.8L1152.4 281.3L1159.3 280.9L1166.2 280.4L1173.1 280.0L1180.0 279.6L1186.9 279.2L1193.9 278.9L1200.8 278.4L1207.7 277.6L1214.6 276.4L1221.5 275.2L1228.4 273.9L1235.3 272.5L1242.2 271.1L1249.1 269.9L1256.0 268.7L1263.0 267.6L1269.9 266.6L1276.8 265.8L1283.7 265.2L1290.6 264.8L1297.5 264.5L1304.4 264.5L1311.3 264.4L1318.2 262.9L1325.1 261.5L1332.0 260.0L1339.0 258.3L1345.9 256.5L1352.8 256.0L1359.7 256.9L1366.6 260.7L1373.5 264.0L1380.4 268.3L1387.3 271.7L1394.2 275.5L1401.1 279.6L1408.1 283.0L1415.0 286.9L1421.9 290.9L1428.8 294.2L1435.7 298.2L1442.6 302.9L1449.5 308.4L1456.4 314.3L1463.3 320.6L1470.2 327.0L1477.1 333.0L1484.1 336.5L1732.8 336.5" stroke="#b2b204"/>
<path d="M1041.8 288.0L1048.8 287.9L1055.7 287.9L1062.6 287.8L1069.5 287.8L1076.4 287.7L1083.3 287.7L1090.2 287.6L1097.1 287.6L1104.0 287.6L1110.9 287.6L1117.9 287.6L1124.8 287.6L1131.7 287.6L1138.6 287.7L1145.5 287.7L1152.4 287.7L1159.3 287.8L1166.2 287.9L1173.1 287.9L1180.0 288.0L1186.9 288.2L1193.9 288.6L1200.8 289.0L1207.7 289.3L1214.6 289.7L1221.5 290.1L1228.4 290.7L1235.3 291.3L1242.2 291.5L1249.1 291.5L1256.0 291.3L1263.0 290.7L1269.9 289.8L1276.8 288.2L1283.7 286.7L1290.6 285.4L1297.5 284.7L1304.4 284.3L1311.3 284.1L1318.2 284.0L1325.1 284.0L1332.0 284.0L1339.0 284.2L1345.9 285.2L1352.8 288.2L1359.7 289.9L1366.6 294.1L1373.5 296.8L1380.4 298.1L1387.3 300.0L1394.2 302.9L1401.1 306.7L1408.1 311.5L1415.0 318.2L1421.9 324.1L1428.8 327.2L1435.7 331.4L1442.6 336.5L1732.8 336.5" stroke="#d2060e"/>
<path d="M1041.8 295.6L1110.9 295.6L1117.9 295.6L1124.8 295.6L1131.7 295.6L1138.6 295.6L1145.5 295.5L1152.4 295.5L1159.3 295.5L1166.2 295.4L1173.1 295.4L1180.0 295.3L1186.9 295.2L1193.9 295.0L1200.8 295.0L1207.7 295.1L1214.6 295.3L1221.5 295.6L1228.4 295.9L1235.3 296.1L1242.2 296.4L1249.1 296.8L1256.0 297.2L1263.0 297.8L1269.9 298.6L1276.8 299.6L1283.7 300.5L1290.6 301.4L1297.5 302.3L1304.4 303.2L1311.3 304.2L1318.2 305.2L1325.1 306.1L1332.0 306.9L1339.0 306.9L1345.9 305.9L1352.8 302.4L1359.7 297.2L1366.6 295.3L1373.5 294.7L1380.4 293.3L1387.3 291.6L1394.2 290.2L1401.1 288.7L1408.1 287.0L1415.0 286.1L1428.8 286.1L1435.7 289.6L1442.6 298.6L1449.5 307.4L1456.4 317.7L1463.3 322.7L1470.2 320.0L1477.1 307.6L1484.1 298.8L1491.0 293.1L1497.9 289.6L1504.8 288.5L1511.7 290.3L1518.6 294.5L1525.5 306.1L1532.4 323.1L1539.3 336.5L1732.8 336.5" stroke="#7e46b4"/>
<path d="M1041.8 306.0L1110.9 306.0L1117.9 306.0L1124.8 306.0L1131.7 306.0L1138.6 305.9L1145.5 305.9L1152.4 305.8L1159.3 305.8L1166.2 305.7L1173.1 305.7L1180.0 305.6L1186.9 305.2L1193.9 304.5L1200.8 303.9L1207.7 303.6L1214.6 303.3L1221.5 302.8L1228.4 302.0L1235.3 300.9L1242.2 299.7L1249.1 298.4L1256.0 296.9L1263.0 295.3L1269.9 293.5L1276.8 291.4L1283.7 288.6L1290.6 285.4L1297.5 281.3L1304.4 276.3L1311.3 271.8L1318.2 268.8L1325.1 267.5L1339.0 267.5L1345.9 267.8L1352.8 268.1L1359.7 268.3L1366.6 269.1L1373.5 281.0L1380.4 294.8L1387.3 308.5L1394.2 324.7L1401.1 334.0L1408.1 336.5L1732.8 336.5" stroke="#089816"/>
<path d="M1041.8 311.0L1048.8 311.0L1055.7 311.0L1062.6 311.0L1069.5 311.1L1076.4 311.1L1083.3 311.2L1090.2 311.3L1097.1 311.3L1104.0 311.4L1110.9 311.5L1117.9 311.5L1124.8 311.6L1131.7 311.8L1138.6 311.9L1145.5 312.1L1152.4 312.2L1159.3 312.4L1166.2 312.6L1173.1 312.8L1180.0 313.0L1186.9 313.3L1193.9 313.6L1200.8 314.0L1207.7 314.5L1214.6 315.0L1221.5 315.6L1228.4 316.3L1235.3 317.2L1242.2 318.2L1249.1 319.1L1256.0 319.9L1263.0 320.9L1269.9 321.9L1276.8 323.3L1283.7 324.9L1290.6 326.7L1297.5 328.5L1304.4 330.2L1311.3 331.8L1318.2 333.4L1325.1 334.9L1332.0 336.5L1732.8 336.5" stroke="#ff6e00"/>
<path d="M1041.8 314.0L1048.8 314.0L1055.7 314.0L1062.6 314.0L1069.5 314.1L1076.4 314.1L1083.3 314.1L1090.2 314.2L1097.1 314.2L1104.0 314.3L1110.9 314.3L1117.9 314.4L1124.8 314.5L1131.7 314.6L1138.6 314.8L1145.5 314.9L1152.4 315.1L1159.3 315.3L1166.2 315.5L1173.1 315.7L1180.0 315.9L1186.9 316.1L1193.9 316.3L1200.8 316.5L1207.7 316.7L1214.6 317.0L1221.5 317.3L1228.4 317.7L1235.3 318.1L1242.2 318.6L1249.1 319.1L1256.0 319.6L1263.0 320.1L1269.9 320.6L1276.8 321.2L1283.7 321.9L1290.6 322.7L1297.5 323.6L1304.4 324.7L1311.3 325.8L1318.2 327.0L1325.1 328.4L1332.0 330.0L1339.0 331.7L1345.9 333.3L1352.8 334.9L1359.7 336.5L1732.8 336.5" stroke="#e160c0"/>
<path d="M1041.8 316.9L1048.8 316.9L1055.7 317.0L1062.6 317.0L1069.5 317.0L1076.4 317.0L1083.3 317.0L1090.2 317.0L1097.1 317.1L1104.0 317.1L1110.9 317.2L1117.9 317.2L1124.8 317.3L1131.7 317.3L1138.6 317.4L1145.5 317.4L1152.4 317.5L1159.3 317.6L1166.2 317.6L1173.1 317.7L1180.0 317.8L1186.9 318.0L1193.9 318.3L1200.8 318.7L1207.7 319.1L1214.6 319.5L1221.5 319.7L1228.4 319.8L1235.3 319.9L1242.2 320.0L1249.1 320.0L1256.0 319.4L1263.0 317.8L1269.9 316.0L1276.8 314.3L1283.7 312.4L1290.6 310.0L1297.5 307.2L1304.4 304.0L1311.3 300.2L1318.2 296.0L1325.1 292.4L1332.0 289.0L1339.0 285.5L1345.9 282.0L1352.8 279.1L1359.7 277.0L1366.6 275.8L1373.5 273.4L1380.4 269.9L1387.3 268.6L1394.2 269.9L1401.1 274.7L1408.1 278.8L1415.0 282.6L1421.9 285.9L1428.8 289.0L1435.7 292.3L1442.6 295.3L1449.5 297.2L1456.4 298.8L1463.3 301.9L1470.2 307.0L1477.1 311.4L1484.1 315.5L1491.0 319.7L1497.9 326.8L1504.8 336.5L1732.8 336.5" stroke="#6a6a6a"/>
<path d="M1041.8 319.6L1048.8 319.6L1055.7 319.6L1062.6 319.6L1069.5 319.6L1076.4 319.6L1083.3 319.6L1090.2 319.6L1097.1 319.6L1104.0 319.6L1110.9 319.6L1117.9 319.6L1124.8 319.5L1131.7 319.5L1138.6 319.5L1145.5 319.5L1152.4 319.5L1159.3 319.5L1166.2 319.4L1173.1 319.4L1180.0 319.4L1186.9 319.3L1193.9 319.1L1200.8 318.9L1207.7 318.7L1214.6 318.5L1221.5 318.4L1228.4 318.3L1235.3 318.1L1242.2 317.9L1249.1 317.5L1256.0 316.9L1263.0 316.3L1269.9 315.4L1276.8 314.7L1283.7 314.3L1290.6 314.1L1297.5 314.1L1304.4 314.7L1311.3 315.7L1318.2 317.0L1325.1 318.5L1332.0 320.6L1339.0 320.3L1345.9 318.3L1352.8 316.2L1359.7 314.1L1366.6 311.9L1373.5 310.3L1380.4 309.5L1387.3 310.4L1394.2 312.1L1401.1 314.4L1408.1 316.9L1415.0 316.9L1421.9 316.1L1428.8 315.1L1435.7 314.0L1442.6 312.1L1449.5 308.4L1456.4 305.8L1463.3 306.7L1470.2 314.3L1477.1 325.2L1484.1 333.1L1491.0 336.5L1732.8 336.5" stroke="#02bad2"/>
<path d="M1041.8 323.5L1048.8 323.5L1055.7 323.5L1062.6 323.5L1069.5 323.5L1076.4 323.5L1083.3 323.5L1090.2 323.5L1097.1 323.6L1104.0 323.6L1110.9 323.6L1117.9 323.6L1124.8 323.6L1131.7 323.6L1138.6 323.7L1145.5 323.7L1152.4 323.7L1159.3 323.7L1166.2 323.8L1173.1 323.8L1180.0 323.8L1186.9 323.9L1193.9 324.2L1200.8 324.6L1207.7 325.1L1214.6 325.6L1221.5 326.1L1228.4 326.6L1235.3 327.0L1242.2 327.4L1249.1 327.9L1256.0 328.3L1263.0 328.7L1269.9 328.9L1276.8 328.9L1283.7 326.8L1290.6 324.0L1297.5 322.7L1304.4 322.1L1311.3 321.7L1318.2 321.7L1325.1 322.4L1332.0 323.6L1339.0 325.2L1345.9 327.9L1352.8 330.9L1359.7 333.7L1366.6 336.5L1732.8 336.5" stroke="#b2b204"/>
<path d="M1041.8 326.0L1048.8 326.0L1055.7 326.1L1062.6 326.1L1069.5 326.1L1076.4 326.1L1083.3 326.1L1090.2 326.2L1097.1 326.2L1104.0 326.2L1110.9 326.3L1117.9 326.3L1124.8 326.4L1131.7 326.5L1138.6 326.5L1145.5 326.6L1152.4 326.7L1159.3 326.7L1166.2 326.8L1173.1 326.9L1180.0 327.0L1186.9 327.1L1193.9 327.3L1200.8 327.5L1207.7 327.8L1214.6 328.1L1221.5 328.5L1228.4 328.8L1235.3 329.3L1242.2 329.7L1249.1 330.2L1256.0 330.7L1263.0 331.5L1269.9 332.3L1276.8 333.2L1283.7 334.1L1290.6 334.9L1297.5 335.9L1304.4 336.5L1470.2 336.5L1477.1 336.2L1484.1 330.8L1491.0 327.1L1497.9 324.6L1504.8 322.5L1511.7 319.5L1518.6 314.2L1525.5 310.0L1532.4 308.4L1539.3 306.9L1546.2 305.0L1553.2 302.2L1560.1 300.4L1567.0 301.3L1573.9 302.9L1580.8 305.2L1587.7 308.0L1594.6 311.0L1601.5 314.0L1608.4 312.5L1615.3 324.2L1622.2 334.2L1629.2 336.5L1732.8 336.5" stroke="#089816"/>
<path d="M1041.8 328.0L1048.8 328.0L1055.7 328.0L1062.6 328.0L1069.5 328.0L1076.4 328.0L1083.3 328.1L1090.2 328.1L1097.1 328.1L1104.0 328.1L1110.9 328.2L1117.9 328.2L1124.8 328.2L1131.7 328.3L1138.6 328.3L1145.5 328.3L1152.4 328.4L1159.3 328.4L1166.2 328.5L1173.1 328.5L1180.0 328.6L1186.9 328.7L1193.9 328.8L1200.8 328.9L1207.7 329.1L1214.6 329.3L1221.5 329.6L1228.4 329.9L1235.3 330.2L1242.2 330.6L1249.1 331.3L1256.0 332.2L1263.0 333.1L1269.9 334.1L1276.8 334.9L1283.7 335.7L1290.6 336.5L1732.8 336.5" stroke="#ff6e00"/>
<path d="M1041.8 329.7L1048.8 329.7L1055.7 329.7L1062.6 329.7L1069.5 329.7L1076.4 329.8L1083.3 329.8L1090.2 329.9L1097.1 329.9L1104.0 330.0L1110.9 330.0L1117.9 330.1L1124.8 330.1L1131.7 330.2L1138.6 330.3L1145.5 330.4L1152.4 330.4L1159.3 330.5L1166.2 330.6L1173.1 330.7L1180.0 330.8L1186.9 330.9L1193.9 331.0L1200.8 331.2L1207.7 331.3L1214.6 331.5L1221.5 331.7L1228.4 332.0L1235.3 332.2L1242.2 332.4L1249.1 332.7L1256.0 333.0L1263.0 333.3L1269.9 333.7L1276.8 334.1L1283.7 334.5L1290.6 334.9L1297.5 335.4L1304.4 335.9L1311.3 336.3L1318.2 336.5L1373.5 336.5L1380.4 337.5L1387.3 339.7L1394.2 342.8L1401.1 351.9L1408.1 360.1L1415.0 363.3L1421.9 364.0L1428.8 363.6L1435.7 362.7L1442.6 361.3L1449.5 357.6L1456.4 353.9L1463.3 351.8L1470.2 348.6L1477.1 342.5L1484.1 338.0L1491.0 336.5L1732.8 336.5" stroke="#0462ae"/>
<path d="M1041.8 339.5L1048.8 339.5L1055.7 339.5L1062.6 339.5L1069.5 339.5L1076.4 339.5L1083.3 339.5L1090.2 339.5L1097.1 339.5L1104.0 339.5L1110.9 339.5L1117.9 339.5L1124.8 339.5L1131.7 339.4L1138.6 339.4L1145.5 339.4L1152.4 339.4L1159.3 339.4L1166.2 339.4L1173.1 339.4L1180.0 339.4L1186.9 339.3L1193.9 339.3L1200.8 339.2L1207.7 339.1L1214.6 338.9L1221.5 338.8L1228.4 338.6L1235.3 338.4L1242.2 338.3L1249.1 338.1L1256.0 337.9L1263.0 337.7L1269.9 337.4L1276.8 337.1L1283.7 336.8L1290.6 336.5L1608.4 336.5L1615.3 318.9L1622.2 305.9L1629.2 297.0L1636.1 301.0L1643.0 310.6L1649.9 319.0L1656.8 331.3L1663.7 336.5L1732.8 336.5" stroke="#b2b204"/>
<path d="M1041.8 341.5L1048.8 341.5L1055.7 341.5L1062.6 341.5L1069.5 341.5L1076.4 341.5L1083.3 341.5L1090.2 341.5L1097.1 341.5L1104.0 341.5L1110.9 341.4L1117.9 341.4L1124.8 341.4L1131.7 341.4L1138.6 341.4L1145.5 341.4L1152.4 341.3L1159.3 341.3L1166.2 341.3L1173.1 341.3L1180.0 341.3L1186.9 341.2L1193.9 341.2L1200.8 341.1L1207.7 341.0L1214.6 340.9L1221.5 340.8L1228.4 340.7L1235.3 340.6L1242.2 340.5L1249.1 340.3L1256.0 340.1L1263.0 339.8L1269.9 339.5L1276.8 339.1L1283.7 338.7L1290.6 338.3L1297.5 337.9L1304.4 337.5L1311.3 337.0L1318.2 336.5L1732.8 336.5" stroke="#089816"/>
<path d="M1041.8 344.4L1048.8 344.4L1055.7 344.4L1062.6 344.4L1069.5 344.4L1076.4 344.4L1083.3 344.4L1090.2 344.5L1097.1 344.5L1104.0 344.5L1110.9 344.5L1117.9 344.5L1124.8 344.5L1131.7 344.6L1138.6 344.6L1145.5 344.6L1152.4 344.6L1159.3 344.6L1166.2 344.7L1173.1 344.7L1180.0 344.7L1186.9 344.8L1193.9 344.9L1200.8 345.1L1207.7 345.2L1214.6 345.4L1221.5 345.6L1228.4 345.8L1235.3 346.0L1242.2 346.2L1249.1 346.5L1256.0 346.8L1263.0 347.0L1269.9 347.2L1276.8 347.3L1283.7 347.2L1290.6 347.2L1297.5 347.0L1304.4 346.8L1311.3 346.1L1318.2 345.2L1325.1 344.1L1332.0 342.6L1339.0 340.7L1345.9 338.7L1352.8 336.5L1732.8 336.5" stroke="#e160c0"/>
<path d="M1041.8 346.8L1048.8 346.8L1055.7 346.8L1062.6 346.8L1069.5 346.8L1076.4 346.8L1083.3 346.8L1090.2 346.8L1097.1 346.8L1104.0 346.8L1110.9 346.8L1117.9 346.8L1124.8 346.7L1131.7 346.7L1138.6 346.7L1145.5 346.7L1152.4 346.7L1159.3 346.7L1166.2 346.7L1173.1 346.7L1180.0 346.6L1186.9 346.6L1193.9 346.6L1200.8 346.5L1207.7 346.5L1214.6 346.4L1221.5 346.3L1228.4 346.1L1235.3 346.0L1242.2 345.8L1249.1 345.3L1256.0 344.8L1263.0 344.2L1269.9 343.5L1276.8 342.8L1283.7 342.1L1290.6 341.3L1297.5 340.5L1304.4 339.6L1311.3 338.8L1318.2 338.1L1325.1 337.4L1332.0 336.8L1339.0 336.5L1366.6 336.5L1373.5 335.5L1380.4 329.7L1387.3 324.7L1394.2 320.4L1401.1 318.2L1408.1 319.5L1415.0 322.2L1421.9 326.3L1428.8 331.0L1435.7 336.5L1732.8 336.5" stroke="#0462ae"/>
<path d="M1041.8 351.2L1048.8 351.2L1055.7 351.2L1062.6 351.2L1069.5 351.2L1076.4 351.2L1083.3 351.2L1090.2 351.1L1097.1 351.1L1104.0 351.1L1110.9 351.1L1117.9 351.1L1124.8 351.0L1131.7 351.0L1138.6 351.0L1145.5 350.9L1152.4 350.9L1159.3 350.9L1166.2 350.8L1173.1 350.8L1180.0 350.8L1186.9 350.7L1193.9 350.6L1200.8 350.5L1207.7 350.4L1214.6 350.2L1221.5 350.1L1228.4 349.9L1235.3 349.7L1242.2 349.4L1249.1 349.2L1256.0 348.9L1263.0 348.4L1269.9 347.9L1276.8 347.3L1283.7 346.6L1290.6 346.0L1297.5 345.3L1304.4 344.6L1311.3 343.9L1318.2 343.1L1325.1 342.2L1332.0 341.3L1339.0 340.2L1345.9 339.1L1352.8 337.8L1359.7 336.5L1732.8 336.5" stroke="#7e46b4"/>
<path d="M1041.8 353.0L1180.0 353.0L1186.9 353.0L1193.9 352.9L1200.8 352.9L1207.7 352.9L1214.6 352.8L1221.5 352.7L1228.4 352.6L1235.3 352.5L1242.2 352.5L1249.1 352.3L1256.0 352.2L1263.0 352.0L1269.9 351.8L1276.8 351.5L1283.7 351.1L1290.6 350.8L1297.5 350.3L1304.4 349.8L1311.3 349.1L1318.2 348.4L1325.1 347.5L1332.0 346.6L1339.0 345.6L1345.9 344.4L1352.8 342.9L1359.7 341.3L1366.6 339.1L1373.5 336.5L1732.8 336.5" stroke="#6a6a6a"/>
<path d="M1041.8 355.5L1048.8 355.5L1055.7 355.5L1062.6 355.5L1069.5 355.5L1076.4 355.5L1083.3 355.4L1090.2 355.4L1097.1 355.4L1104.0 355.4L1110.9 355.3L1117.9 355.3L1124.8 355.2L1131.7 355.2L1138.6 355.2L1145.5 355.1L1152.4 355.1L1159.3 355.0L1166.2 355.0L1173.1 354.9L1180.0 354.9L1186.9 354.8L1193.9 354.8L1200.8 354.7L1207.7 354.6L1214.6 354.6L1221.5 354.5L1228.4 354.4L1235.3 354.2L1242.2 354.1L1249.1 353.9L1256.0 353.7L1263.0 353.3L1269.9 352.7L1276.8 352.1L1283.7 351.4L1290.6 350.8L1297.5 350.1L1304.4 349.3L1311.3 348.4L1318.2 347.5L1325.1 346.5L1332.0 345.4L1339.0 344.2L1345.9 342.8L1352.8 341.3L1359.7 339.7L1366.6 337.8L1373.5 336.5L1732.8 336.5" stroke="#7e46b4"/>
<path d="M1041.8 357.0L1048.8 357.0L1055.7 357.0L1062.6 357.0L1069.5 357.0L1076.4 356.9L1083.3 356.9L1090.2 356.9L1097.1 356.9L1104.0 356.8L1110.9 356.8L1117.9 356.7L1124.8 356.7L1131.7 356.6L1138.6 356.6L1145.5 356.5L1152.4 356.4L1159.3 356.4L1166.2 356.3L1173.1 356.2L1180.0 356.1L1186.9 356.1L1193.9 355.9L1200.8 355.8L1207.7 355.6L1214.6 355.4L1221.5 355.2L1228.4 354.9L1235.3 354.6L1242.2 354.3L1249.1 353.9L1256.0 353.5L1263.0 352.8L1269.9 352.0L1276.8 351.1L1283.7 350.1L1290.6 349.2L1297.5 348.1L1304.4 346.9L1311.3 345.7L1318.2 344.4L1325.1 343.1L1332.0 341.7L1339.0 340.4L1345.9 339.0L1352.8 337.8L1359.7 336.5L1732.8 336.5" stroke="#089816"/>
<path d="M1041.8 358.0L1048.8 358.0L1055.7 358.0L1062.6 358.0L1069.5 358.0L1076.4 358.0L1083.3 358.0L1090.2 358.0L1097.1 357.9L1104.0 357.9L1110.9 357.9L1117.9 357.8L1124.8 357.8L1131.7 357.8L1138.6 357.7L1145.5 357.7L1152.4 357.6L1159.3 357.6L1166.2 357.5L1173.1 357.5L1180.0 357.4L1186.9 357.3L1193.9 357.2L1200.8 357.1L1207.7 356.9L1214.6 356.8L1221.5 356.6L1228.4 356.4L1235.3 356.1L1242.2 355.9L1249.1 355.6L1256.0 355.2L1263.0 354.8L1269.9 354.4L1276.8 353.9L1283.7 353.4L1290.6 352.8L1297.5 352.2L1304.4 351.5L1311.3 350.7L1318.2 349.8L1325.1 348.9L1332.0 347.7L1339.0 346.3L1345.9 344.2L1352.8 341.3L1359.7 337.7L1366.6 328.0L1373.5 316.4L1380.4 299.1L1387.3 285.1L1394.2 271.2L1401.1 262.0L1408.1 257.6L1415.0 256.0L1421.9 264.4L1428.8 280.8L1435.7 294.1L1442.6 305.1L1449.5 319.2L1456.4 333.0L1463.3 336.5L1732.8 336.5" stroke="#ff6e00"/>
<path d="M1041.8 359.7L1048.8 359.7L1055.7 359.7L1062.6 359.7L1069.5 359.6L1076.4 359.6L1083.3 359.6L1090.2 359.6L1097.1 359.5L1104.0 359.5L1110.9 359.4L1117.9 359.4L1124.8 359.3L1131.7 359.2L1138.6 359.2L1145.5 359.1L1152.4 359.0L1159.3 358.9L1166.2 358.9L1173.1 358.8L1180.0 358.7L1186.9 358.6L1193.9 358.5L1200.8 358.3L1207.7 358.1L1214.6 357.9L1221.5 357.7L1228.4 357.4L1235.3 357.1L1242.2 356.7L1249.1 356.0L1256.0 355.2L1263.0 354.3L1269.9 353.3L1276.8 352.3L1283.7 351.3L1290.6 350.2L1297.5 348.9L1304.4 347.6L1311.3 346.2L1318.2 344.7L1325.1 343.1L1332.0 341.3L1339.0 339.1L1345.9 336.5L1732.8 336.5" stroke="#7c382a"/>
<path d="M1041.8 362.5L1048.8 362.5L1055.7 362.4L1062.6 362.4L1069.5 362.4L1076.4 362.4L1083.3 362.3L1090.2 362.3L1097.1 362.2L1104.0 362.2L1110.9 362.1L1117.9 362.1L1124.8 362.0L1131.7 362.0L1138.6 361.9L1145.5 361.9L1152.4 361.8L1159.3 361.7L1166.2 361.7L1173.1 361.6L1180.0 361.5L1186.9 361.5L1193.9 361.4L1200.8 361.3L1207.7 361.2L1214.6 361.1L1221.5 361.1L1228.4 360.9L1235.3 360.8L1242.2 360.7L1249.1 360.6L1256.0 360.4L1263.0 360.3L1269.9 360.1L1276.8 359.8L1283.7 359.6L1290.6 359.3L1297.5 359.0L1304.4 358.7L1311.3 358.3L1318.2 357.9L1325.1 357.4L1332.0 356.8L1339.0 356.0L1345.9 355.1L1352.8 353.9L1359.7 352.4L1366.6 350.8L1373.5 349.3L1380.4 348.1L1387.3 347.0L1394.2 345.7L1401.1 344.5L1408.1 343.2L1415.0 341.7L1421.9 339.9L1428.8 338.3L1435.7 337.3L1442.6 336.5L1732.8 336.5" stroke="#b2b204"/>
<path d="M1041.8 365.5L1048.8 365.5L1055.7 365.5L1062.6 365.5L1069.5 365.5L1076.4 365.5L1083.3 365.5L1090.2 365.4L1097.1 365.4L1104.0 365.4L1110.9 365.4L1117.9 365.4L1124.8 365.3L1131.7 365.3L1138.6 365.3L1145.5 365.2L1152.4 365.2L1159.3 365.2L1166.2 365.1L1173.1 365.1L1180.0 365.0L1186.9 364.9L1193.9 364.8L1200.8 364.7L1207.7 364.5L1214.6 364.2L1221.5 364.0L1228.4 363.7L1235.3 363.4L1242.2 363.1L1249.1 362.7L1256.0 362.2L1263.0 361.6L1269.9 361.0L1276.8 360.3L1283.7 359.5L1290.6 358.6L1297.5 357.5L1304.4 356.4L1311.3 355.2L1318.2 353.9L1325.1 352.6L1332.0 351.1L1339.0 349.4L1345.9 347.6L1352.8 345.4L1359.7 342.9L1366.6 340.3L1373.5 337.6L1380.4 336.5L1732.8 336.5" stroke="#6a6a6a"/>
<path d="M1041.8 369.6L1048.8 369.7L1055.7 369.8L1062.6 369.9L1069.5 369.9L1076.4 369.9L1083.3 370.0L1090.2 370.0L1097.1 370.0L1104.0 370.0L1110.9 370.0L1117.9 370.0L1124.8 369.9L1131.7 369.8L1138.6 369.7L1145.5 369.6L1152.4 369.4L1159.3 369.2L1166.2 369.0L1173.1 368.8L1180.0 368.6L1186.9 368.4L1193.9 368.1L1200.8 367.7L1207.7 367.3L1214.6 366.9L1221.5 366.4L1228.4 365.7L1235.3 365.0L1242.2 364.2L1249.1 363.6L1256.0 362.9L1263.0 362.3L1269.9 362.0L1276.8 363.7L1283.7 366.9L1290.6 370.4L1297.5 374.5L1304.4 378.5L1311.3 382.5L1318.2 386.9L1325.1 392.0L1332.0 397.5L1339.0 403.1L1345.9 408.6L1352.8 414.0L1359.7 418.9L1366.6 421.2L1373.5 421.6L1380.4 421.4L1387.3 420.7L1394.2 416.0L1401.1 408.6L1408.1 390.3L1415.0 373.0L1421.9 360.0L1428.8 346.3L1435.7 336.8L1442.6 336.5L1732.8 336.5" stroke="#d2060e"/>
<path d="M1041.8 378.0L1110.9 378.0L1117.9 378.0L1124.8 378.1L1131.7 378.1L1138.6 378.2L1145.5 378.3L1152.4 378.4L1159.3 378.5L1166.2 378.7L1173.1 378.8L1180.0 379.0L1186.9 379.2L1193.9 379.5L1200.8 379.8L1207.7 380.2L1214.6 380.5L1221.5 381.0L1228.4 381.5L1235.3 381.9L1242.2 382.3L1249.1 382.5L1256.0 382.3L1263.0 382.0L1269.9 381.6L1276.8 380.6L1283.7 379.0L1290.6 377.1L1297.5 374.8L1304.4 372.4L1311.3 369.7L1318.2 366.4L1325.1 362.4L1332.0 358.0L1339.0 353.3L1345.9 348.0L1352.8 343.2L1359.7 339.9L1366.6 337.8L1373.5 336.6L1380.4 336.5L1732.8 336.5" stroke="#02bad2"/>
<path d="M1041.8 383.0L1048.8 383.0L1055.7 383.0L1062.6 382.9L1069.5 382.8L1076.4 382.8L1083.3 382.7L1090.2 382.6L1097.1 382.5L1104.0 382.4L1110.9 382.3L1117.9 382.2L1124.8 382.0L1131.7 381.8L1138.6 381.6L1145.5 381.3L1152.4 381.1L1159.3 380.8L1166.2 380.5L1173.1 380.2L1180.0 379.9L1186.9 379.6L1193.9 379.3L1200.8 378.9L1207.7 378.5L1214.6 378.0L1221.5 377.4L1228.4 376.7L1235.3 375.9L1242.2 374.9L1249.1 373.9L1256.0 372.7L1263.0 371.3L1269.9 369.7L1276.8 367.9L1283.7 366.0L1290.6 363.7L1297.5 361.0L1304.4 358.2L1311.3 355.1L1318.2 352.0L1325.1 349.0L1332.0 345.9L1339.0 342.8L1345.9 339.7L1352.8 336.5L1732.8 336.5" stroke="#6a6a6a"/>
<path d="M1041.8 403.4L1048.8 403.4L1055.7 403.3L1062.6 403.3L1069.5 403.3L1076.4 403.3L1083.3 403.2L1090.2 403.2L1097.1 403.1L1104.0 403.1L1110.9 403.0L1117.9 403.0L1124.8 402.9L1131.7 402.8L1138.6 402.7L1145.5 402.6L1152.4 402.5L1159.3 402.4L1166.2 402.2L1173.1 402.1L1180.0 402.0L1186.9 401.9L1193.9 401.8L1200.8 401.7L1207.7 401.6L1214.6 401.5L1221.5 401.3L1228.4 401.1L1235.3 400.9L1242.2 400.6L1249.1 400.4L1256.0 400.1L1263.0 399.9L1269.9 399.6L1276.8 399.3L1283.7 398.9L1290.6 398.6L1297.5 398.2L1304.4 397.8L1311.3 397.4L1318.2 397.0L1325.1 396.6L1332.0 396.2L1339.0 395.8L1345.9 395.4L1352.8 395.0L1359.7 394.6L1366.6 394.2L1373.5 393.7L1380.4 392.9L1387.3 392.0L1394.2 390.9L1401.1 389.7L1408.1 388.4L1415.0 387.1L1421.9 385.9L1428.8 384.4L1435.7 382.3L1442.6 379.6L1449.5 376.2L1456.4 372.0L1463.3 367.5L1470.2 362.7L1477.1 357.5L1484.1 351.7L1491.0 346.0L1497.9 340.7L1504.8 336.5L1732.8 336.5" stroke="#7e46b4"/>
<path d="M1041.8 409.4L1048.8 409.4L1055.7 409.4L1062.6 409.3L1069.5 409.3L1076.4 409.3L1083.3 409.2L1090.2 409.2L1097.1 409.1L1104.0 409.0L1110.9 409.0L1117.9 408.9L1124.8 408.8L1131.7 408.7L1138.6 408.6L1145.5 408.4L1152.4 408.3L1159.3 408.1L1166.2 407.9L1173.1 407.8L1180.0 407.6L1186.9 407.4L1193.9 407.2L1200.8 406.9L1207.7 406.6L1214.6 406.4L1221.5 406.1L1228.4 405.9L1235.3 405.6L1242.2 405.3L1249.1 405.0L1256.0 404.5L1263.0 403.9L1269.9 403.2L1276.8 402.3L1283.7 401.4L1290.6 400.2L1297.5 398.7L1304.4 396.9L1311.3 394.9L1318.2 392.9L1325.1 390.9L1332.0 388.6L1339.0 385.6L1345.9 380.3L1352.8 373.9L1359.7 368.7L1366.6 364.6L1373.5 364.4L1380.4 366.8L1387.3 369.0L1394.2 369.9L1401.1 369.9L1408.1 369.4L1415.0 368.8L1421.9 368.0L1428.8 367.1L1435.7 366.0L1442.6 364.2L1449.5 361.1L1456.4 358.0L1463.3 355.9L1470.2 353.7L1477.1 349.4L1484.1 342.0L1491.0 337.3L1497.9 336.5L1732.8 336.5" stroke="#d2060e"/>
<path d="M1041.8 417.6L1048.8 417.6L1055.7 417.5L1062.6 417.4L1069.5 417.3L1076.4 417.2L1083.3 417.0L1090.2 416.9L1097.1 416.7L1104.0 416.5L1110.9 416.4L1117.9 416.2L1124.8 415.9L1131.7 415.6L1138.6 415.3L1145.5 415.0L1152.4 414.6L1159.3 414.3L1166.2 413.9L1173.1 413.4L1180.0 413.0L1186.9 412.5L1193.9 412.0L1200.8 411.4L1207.7 410.7L1214.6 410.0L1221.5 409.2L1228.4 408.4L1235.3 407.4L1242.2 406.2L1249.1 405.0L1256.0 403.3L1263.0 401.2L1269.9 398.9L1276.8 396.6L1283.7 394.0L1290.6 390.9L1297.5 387.5L1304.4 383.5L1311.3 378.8L1318.2 373.9L1325.1 368.5L1332.0 363.4L1339.0 358.9L1345.9 356.5L1352.8 358.2L1359.7 361.9L1366.6 367.4L1373.5 372.0L1380.4 375.5L1387.3 378.0L1394.2 379.8L1401.1 378.9L1408.1 376.4L1415.0 375.4L1421.9 375.0L1428.8 376.6L1435.7 379.8L1442.6 384.4L1449.5 390.5L1456.4 396.0L1463.3 400.6L1470.2 404.5L1477.1 406.8L1484.1 408.3L1491.0 409.0L1497.9 407.7L1504.8 403.0L1511.7 393.2L1518.6 378.8L1525.5 364.0L1532.4 354.5L1539.3 345.6L1546.2 336.5L1732.8 336.5" stroke="#e160c0"/>
<path d="M1041.8 424.0L1048.8 424.0L1055.7 423.9L1062.6 423.9L1069.5 423.8L1076.4 423.7L1083.3 423.6L1090.2 423.4L1097.1 423.3L1104.0 423.2L1110.9 423.0L1117.9 422.8L1124.8 422.6L1131.7 422.4L1138.6 422.1L1145.5 421.8L1152.4 421.5L1159.3 421.2L1166.2 420.8L1173.1 420.4L1180.0 420.0L1186.9 419.5L1193.9 419.0L1200.8 418.3L1207.7 417.7L1214.6 417.0L1221.5 416.3L1228.4 415.6L1235.3 414.8L1242.2 414.0L1249.1 413.0L1256.0 411.9L1263.0 410.7L1269.9 409.3L1276.8 407.7L1283.7 405.9L1290.6 403.5L1297.5 400.4L1304.4 396.4L1311.3 391.1L1318.2 385.0L1325.1 377.1L1332.0 369.0L1339.0 362.9L1345.9 357.4L1352.8 351.7L1359.7 346.5L1366.6 342.3L1373.5 339.5L1380.4 337.7L1387.3 336.5L1732.8 336.5" stroke="#089816"/>
<path d="M1041.8 428.1L1048.8 428.1L1055.7 428.1L1062.6 428.0L1069.5 428.0L1076.4 427.9L1083.3 427.9L1090.2 427.8L1097.1 427.8L1104.0 427.7L1110.9 427.6L1117.9 427.5L1124.8 427.4L1131.7 427.3L1138.6 427.2L1145.5 427.0L1152.4 426.8L1159.3 426.7L1166.2 426.4L1173.1 426.2L1180.0 426.0L1186.9 425.7L1193.9 425.3L1200.8 424.9L1207.7 424.4L1214.6 424.0L1221.5 423.5L1228.4 423.1L1235.3 422.7L1242.2 422.2L1249.1 421.6L1256.0 420.8L1263.0 419.7L1269.9 418.3L1276.8 416.8L1283.7 415.0L1290.6 412.6L1297.5 409.4L1304.4 405.7L1311.3 401.3L1318.2 396.0L1325.1 388.8L1332.0 380.9L1339.0 373.8L1345.9 367.3L1352.8 361.8L1359.7 355.3L1366.6 348.9L1373.5 343.8L1380.4 339.7L1387.3 336.5L1732.8 336.5" stroke="#7e46b4"/>
<path d="M1041.8 435.4L1048.8 435.3L1055.7 435.3L1062.6 435.3L1069.5 435.3L1076.4 435.2L1083.3 435.2L1090.2 435.2L1097.1 435.1L1104.0 435.1L1110.9 435.1L1117.9 435.0L1124.8 435.0L1131.7 434.9L1138.6 434.9L1145.5 434.9L1152.4 434.8L1159.3 434.8L1166.2 434.7L1173.1 434.6L1180.0 434.6L1186.9 434.5L1193.9 434.4L1200.8 434.3L1207.7 434.2L1214.6 434.0L1221.5 433.7L1228.4 433.1L1235.3 432.2L1242.2 430.7L1249.1 429.0L1256.0 427.1L1263.0 424.9L1269.9 422.5L1276.8 420.2L1283.7 417.9L1290.6 415.9L1297.5 413.9L1304.4 411.9L1311.3 409.9L1318.2 408.0L1325.1 406.2L1332.0 404.5L1339.0 402.4L1345.9 399.6L1352.8 396.0L1359.7 391.9L1366.6 387.0L1373.5 380.2L1380.4 370.3L1387.3 361.9L1394.2 357.2L1401.1 352.3L1408.1 347.2L1415.0 342.8L1421.9 339.3L1428.8 336.5L1732.8 336.5" stroke="#6a6a6a"/>
<path d="M1041.8 443.6L1048.8 443.6L1055.7 443.6L1062.6 443.6L1069.5 443.5L1076.4 443.5L1083.3 443.5L1090.2 443.5L1097.1 443.4L1104.0 443.4L1110.9 443.4L1117.9 443.4L1124.8 443.3L1131.7 443.3L1138.6 443.3L1145.5 443.2L1152.4 443.2L1159.3 443.2L1166.2 443.1L1173.1 443.0L1180.0 443.0L1186.9 442.9L1193.9 442.7L1200.8 442.5L1207.7 442.3L1214.6 442.0L1221.5 441.8L1228.4 441.5L1235.3 441.2L1242.2 440.9L1249.1 440.6L1256.0 440.3L1263.0 439.9L1269.9 439.5L1276.8 439.0L1283.7 438.5L1290.6 438.0L1297.5 437.4L1304.4 436.7L1311.3 435.9L1318.2 435.1L1325.1 433.9L1332.0 432.6L1339.0 431.2L1345.9 429.8L1352.8 428.4L1359.7 427.3L1366.6 426.0L1373.5 422.2L1380.4 413.5L1387.3 405.2L1394.2 397.7L1401.1 392.2L1408.1 387.3L1415.0 379.7L1421.9 370.0L1428.8 359.8L1435.7 350.3L1442.6 342.9L1449.5 337.8L1456.4 336.5L1732.8 336.5" stroke="#7e46b4"/>
<path d="M1041.8 470.0L1048.8 470.0L1055.7 470.0L1062.6 469.9L1069.5 469.9L1076.4 469.8L1083.3 469.8L1090.2 469.7L1097.1 469.6L1104.0 469.5L1110.9 469.4L1117.9 469.3L1124.8 469.2L1131.7 469.0L1138.6 468.8L1145.5 468.5L1152.4 468.3L1159.3 468.0L1166.2 467.7L1173.1 467.4L1180.0 467.1L1186.9 466.7L1193.9 466.2L1200.8 465.6L1207.7 465.0L1214.6 464.4L1221.5 463.7L1228.4 463.1L1235.3 462.3L1242.2 461.4L1249.1 460.4L1256.0 459.1L1263.0 457.5L1269.9 455.8L1276.8 453.9L1283.7 452.0L1290.6 450.2L1297.5 448.2L1304.4 446.2L1311.3 444.2L1318.2 442.0L1325.1 439.6L1332.0 437.3L1339.0 435.0L1345.9 432.9L1352.8 432.0L1359.7 432.9L1366.6 434.9L1373.5 437.4L1380.4 440.6L1387.3 441.8L1394.2 441.2L1401.1 438.6L1408.1 435.7L1415.0 431.2L1421.9 422.0L1428.8 410.5L1435.7 396.9L1442.6 382.7L1449.5 368.5L1456.4 356.0L1463.3 345.2L1470.2 338.4L1477.1 336.5L1732.8 336.5" stroke="#b2b204"/>
<path d="M1041.8 489.4L1048.8 489.3L1055.7 489.3L1062.6 489.2L1069.5 489.1L1076.4 489.0L1083.3 488.9L1090.2 488.8L1097.1 488.7L1104.0 488.5L1110.9 488.4L1117.9 488.3L1124.8 488.1L1131.7 487.9L1138.6 487.8L1145.5 487.6L1152.4 487.4L1159.3 487.2L1166.2 486.9L1173.1 486.7L1180.0 486.4L1186.9 486.0L1193.9 485.6L1200.8 485.1L1207.7 484.5L1214.6 484.0L1221.5 483.4L1228.4 482.8L1235.3 482.2L1242.2 481.6L1249.1 481.0L1256.0 480.4L1263.0 479.8L1269.9 479.2L1276.8 478.6L1283.7 478.0L1290.6 477.4L1297.5 476.7L1304.4 475.8L1311.3 474.5L1318.2 473.0L1325.1 470.7L1332.0 468.3L1339.0 466.3L1345.9 463.6L1352.8 461.0L1359.7 459.5L1366.6 458.4L1373.5 457.7L1380.4 457.4L1387.3 456.9L1394.2 455.4L1401.1 453.0L1408.1 450.5L1415.0 447.7L1421.9 443.9L1428.8 438.2L1435.7 430.3L1442.6 419.9L1449.5 408.2L1456.4 396.0L1463.3 382.4L1470.2 365.9L1477.1 350.3L1484.1 342.3L1491.0 338.1L1497.9 336.5L1732.8 336.5" stroke="#d2060e"/>
<path d="M1041.8 530.0L1048.8 529.9L1055.7 529.8L1062.6 529.7L1069.5 529.6L1076.4 529.5L1083.3 529.4L1090.2 529.3L1097.1 529.2L1104.0 529.1L1110.9 529.0L1117.9 528.9L1124.8 528.8L1131.7 528.6L1138.6 528.5L1145.5 528.4L1152.4 528.3L1159.3 528.1L1166.2 528.0L1173.1 527.8L1180.0 527.6L1186.9 527.4L1193.9 527.1L1200.8 526.8L1207.7 526.4L1214.6 526.0L1221.5 525.6L1228.4 525.1L1235.3 524.5L1242.2 523.8L1249.1 523.0L1256.0 522.0L1263.0 520.7L1269.9 518.8L1276.8 516.1L1283.7 513.0L1290.6 509.8L1297.5 506.3L1304.4 502.5L1311.3 498.4L1318.2 494.0L1325.1 489.4L1332.0 484.6L1339.0 479.8L1345.9 475.1L1352.8 471.0L1359.7 468.1L1366.6 464.2L1373.5 459.8L1380.4 455.0L1387.3 450.2L1394.2 445.0L1401.1 439.0L1408.1 432.1L1415.0 424.1L1421.9 414.0L1428.8 399.0L1435.7 384.6L1442.6 370.6L1449.5 356.9L1456.4 346.4L1463.3 338.7L1470.2 336.5L1732.8 336.5" stroke="#7e46b4"/>
<path d="M1041.8 578.0L1048.8 577.9L1055.7 577.9L1062.6 577.7L1069.5 577.6L1076.4 577.4L1083.3 577.1L1090.2 576.9L1097.1 576.6L1104.0 576.3L1110.9 576.0L1117.9 575.7L1124.8 575.3L1131.7 574.8L1138.6 574.3L1145.5 573.7L1152.4 573.1L1159.3 572.4L1166.2 571.6L1173.1 570.8L1180.0 570.0L1186.9 569.0L1193.9 567.7L1200.8 566.2L1207.7 564.6L1214.6 563.0L1221.5 561.4L1228.4 559.5L1235.3 557.1L1242.2 554.3L1249.1 551.0L1256.0 547.0L1263.0 542.2L1269.9 536.9L1276.8 530.8L1283.7 524.0L1290.6 516.3L1297.5 507.9L1304.4 499.9L1311.3 492.0L1318.2 484.0L1325.1 476.1L1332.0 466.9L1339.0 455.6L1345.9 447.3L1352.8 440.0L1359.7 433.1L1366.6 426.5L1373.5 418.7L1380.4 407.0L1387.3 388.0L1394.2 371.8L1401.1 357.9L1408.1 346.1L1415.0 338.4L1421.9 336.5L1732.8 336.5" stroke="#ff6e00"/>
<path d="M1041.8 580.5L1048.8 580.5L1055.7 580.5L1062.6 580.5L1069.5 580.4L1076.4 580.3L1083.3 580.3L1090.2 580.2L1097.1 580.1L1104.0 580.1L1110.9 580.0L1117.9 579.9L1124.8 579.8L1131.7 579.6L1138.6 579.4L1145.5 579.2L1152.4 579.0L1159.3 578.8L1166.2 578.5L1173.1 578.3L1180.0 578.0L1186.9 577.6L1193.9 577.2L1200.8 576.6L1207.7 576.0L1214.6 575.4L1221.5 574.6L1228.4 573.6L1235.3 572.4L1242.2 570.9L1249.1 569.0L1256.0 566.5L1263.0 563.4L1269.9 560.1L1276.8 556.3L1283.7 552.0L1290.6 546.8L1297.5 541.0L1304.4 535.4L1311.3 529.7L1318.2 524.0L1325.1 518.0L1332.0 512.3L1339.0 506.9L1345.9 501.3L1352.8 496.0L1359.7 492.1L1366.6 488.3L1373.5 482.8L1380.4 475.2L1387.3 469.9L1394.2 466.4L1401.1 464.9L1408.1 464.0L1415.0 464.6L1421.9 465.6L1428.8 465.6L1435.7 463.1L1442.6 458.6L1449.5 452.6L1456.4 443.0L1463.3 427.4L1470.2 415.1L1477.1 401.7L1484.1 388.2L1491.0 376.0L1497.9 362.0L1504.8 342.9L1511.7 336.5L1732.8 336.5" stroke="#089816"/>
<path d="M1041.8 589.6L1048.8 589.6L1055.7 589.7L1062.6 589.7L1069.5 589.8L1076.4 589.8L1083.3 589.9L1090.2 589.9L1097.1 589.9L1104.0 590.0L1110.9 590.0L1117.9 590.1L1124.8 590.1L1131.7 590.1L1138.6 590.2L1145.5 590.2L1152.4 590.3L1159.3 590.3L1166.2 590.3L1173.1 590.3L1180.0 590.3L1186.9 590.3L1193.9 590.3L1200.8 590.2L1207.7 590.1L1214.6 590.0L1221.5 589.7L1228.4 589.1L1235.3 588.4L1242.2 587.3L1249.1 586.0L1256.0 584.5L1263.0 582.8L1269.9 580.8L1276.8 578.5L1283.7 576.0L1290.6 573.2L1297.5 570.1L1304.4 566.9L1311.3 563.4L1318.2 559.9L1325.1 556.6L1332.0 552.7L1339.0 547.8L1345.9 541.2L1352.8 531.7L1359.7 518.5L1366.6 505.3L1373.5 489.9L1380.4 471.8L1387.3 452.3L1394.2 432.0L1401.1 413.0L1408.1 385.2L1415.0 352.4L1421.9 346.0L1428.8 340.9L1435.7 336.5L1732.8 336.5" stroke="#6a6a6a"/>
<path d="M1041.8 321.5L1048.8 321.5L1055.7 321.5L1062.6 321.5L1069.5 321.5L1076.4 321.6L1083.3 321.6L1090.2 321.6L1097.1 321.6L1104.0 321.7L1110.9 321.7L1117.9 321.7L1124.8 321.8L1131.7 321.8L1138.6 321.9L1145.5 321.9L1152.4 322.0L1159.3 322.0L1166.2 322.1L1173.1 322.2L1180.0 322.2L1186.9 322.3L1193.9 322.5L1200.8 322.7L1207.7 323.0L1214.6 323.3L1221.5 323.7L1228.4 324.1L1235.3 324.5L1242.2 324.9L1249.1 325.4L1256.0 325.9L1263.0 326.6L1269.9 327.3L1276.8 328.2L1283.7 329.1L1290.6 330.2L1297.5 331.8L1304.4 333.9L1311.3 335.7L1318.2 336.5L1394.2 336.5L1401.1 336.1L1408.1 333.0L1415.0 330.1L1421.9 326.8L1428.8 320.8L1435.7 312.0L1442.6 305.9L1449.5 305.7L1456.4 307.4L1463.3 309.6L1470.2 312.7L1477.1 316.6L1484.1 320.8L1491.0 325.2L1497.9 330.8L1504.8 336.5L1732.8 336.5" stroke="#d2060e"/>
<path d="M1041.8 242.6L1048.8 242.6L1055.7 242.7L1062.6 242.7L1069.5 242.8L1076.4 242.9L1083.3 243.0L1090.2 243.2L1097.1 243.3L1104.0 243.5L1110.9 243.6L1117.9 243.9L1124.8 244.1L1131.7 244.5L1138.6 244.8L1145.5 245.3L1152.4 245.8L1159.3 246.3L1166.2 246.9L1173.1 247.5L1180.0 248.1L1186.9 248.8L1193.9 249.7L1200.8 250.6L1207.7 251.8L1214.6 253.0L1221.5 254.6L1228.4 256.2L1235.3 257.8L1242.2 259.6L1249.1 261.8L1256.0 264.3L1263.0 267.2L1269.9 270.9L1276.8 275.0L1283.7 279.3L1290.6 283.9L1297.5 288.9L1304.4 294.6L1311.3 300.2L1318.2 305.6L1325.1 311.1L1332.0 316.7L1339.0 322.3L1345.9 326.8L1352.8 330.3L1359.7 332.9L1366.6 334.8L1373.5 336.2L1380.4 336.5L1732.8 336.5" stroke="#0462ae"/>
<path d="M1041.8 199.0L1048.8 199.0L1055.7 199.0L1062.6 199.0L1069.5 199.1L1076.4 199.1L1083.3 199.2L1090.2 199.3L1097.1 199.4L1104.0 199.5L1110.9 199.6L1117.9 199.7L1124.8 199.9L1131.7 200.2L1138.6 200.4L1145.5 200.8L1152.4 201.1L1159.3 201.5L1166.2 202.0L1173.1 202.5L1180.0 203.0L1186.9 203.6L1193.9 204.5L1200.8 205.5L1207.7 206.7L1214.6 208.0L1221.5 209.6L1228.4 211.7L1235.3 213.9L1242.2 216.2L1249.1 218.6L1256.0 221.1L1263.0 223.7L1269.9 226.5L1276.8 229.6L1283.7 233.2L1290.6 237.8L1297.5 244.4L1304.4 253.0L1311.3 260.6L1318.2 267.9L1325.1 276.3L1332.0 284.0L1339.0 290.1L1345.9 296.3L1352.8 302.6L1359.7 308.8L1366.6 314.4L1373.5 319.5L1380.4 324.2L1387.3 328.3L1394.2 333.0L1401.1 336.5L1732.8 336.5" stroke="#ff6e00"/>
<path d="M1041.8 332.5L1048.8 332.5L1055.7 332.5L1062.6 332.5L1069.5 332.5L1076.4 332.5L1083.3 332.5L1090.2 332.5L1097.1 332.5L1104.0 332.5L1110.9 332.6L1117.9 332.6L1124.8 332.6L1131.7 332.6L1138.6 332.6L1145.5 332.6L1152.4 332.6L1159.3 332.6L1166.2 332.7L1173.1 332.7L1180.0 332.7L1186.9 332.7L1193.9 332.8L1200.8 332.9L1207.7 333.0L1214.6 333.2L1221.5 333.3L1228.4 333.5L1235.3 333.7L1242.2 333.8L1249.1 334.0L1256.0 334.1L1263.0 334.2L1269.9 334.4L1276.8 334.5L1283.7 334.7L1290.6 334.8L1297.5 335.0L1304.4 335.2L1311.3 335.4L1318.2 335.5L1325.1 335.8L1332.0 336.1L1339.0 336.4L1345.9 336.5L1394.2 336.5L1401.1 336.1L1408.1 333.0L1415.0 330.1L1421.9 326.8L1428.8 320.9L1435.7 311.9L1442.6 301.5L1449.5 292.0L1456.4 285.8L1463.3 282.3L1470.2 279.6L1477.1 277.0L1484.1 279.2L1491.0 282.0L1504.8 282.0L1511.7 282.7L1518.6 281.2L1525.5 278.0L1532.4 280.1L1539.3 284.0L1546.2 289.9L1553.2 300.9L1560.1 313.9L1567.0 327.8L1573.9 336.5L1732.8 336.5" stroke="#d2060e"/>
<path d="M1041.8 334.9L1048.8 334.9L1055.7 334.9L1062.6 334.9L1069.5 334.9L1076.4 334.9L1083.3 334.9L1090.2 334.9L1097.1 334.9L1104.0 334.9L1110.9 334.9L1117.9 334.9L1124.8 334.9L1131.7 334.9L1138.6 334.9L1145.5 334.9L1152.4 334.9L1159.3 334.9L1166.2 334.9L1173.1 334.9L1180.0 334.9L1186.9 334.9L1193.9 334.9L1200.8 335.0L1207.7 335.0L1214.6 335.1L1221.5 335.1L1228.4 335.2L1235.3 335.2L1242.2 335.3L1249.1 335.5L1256.0 335.7L1263.0 335.9L1269.9 336.2L1276.8 336.5L1732.8 336.5" stroke="#d2060e"/>
<path d="M1041.8 337.0L1048.8 337.0L1055.7 336.9L1062.6 336.9L1069.5 336.9L1076.4 336.9L1083.3 336.8L1090.2 336.8L1097.1 336.8L1104.0 336.8L1110.9 336.7L1117.9 336.7L1124.8 336.7L1131.7 336.7L1138.6 336.7L1145.5 336.6L1152.4 336.6L1159.3 336.6L1166.2 336.6L1173.1 336.6L1180.0 336.6L1186.9 336.6L1193.9 336.5L1200.8 336.5L1207.7 336.5L1214.6 336.5L1221.5 336.5L1228.4 336.5L1235.3 336.5L1242.2 336.5L1249.1 336.5L1732.8 336.5" stroke="#d2060e"/>
</g>
<rect x="1007.2" y="41.78" width="760.2" height="574.57" fill="none" stroke="#000" stroke-width="1.9"/>
<path d="M1041.85 616.35v7.1M1180.04 616.35v7.1M1318.23 616.35v7.1M1456.42 616.35v7.1M1594.61 616.35v7.1M1732.8 616.35v7.1M1007.2 574.17h-7.1M1007.2 494.95h-7.1M1007.2 415.73h-7.1M1007.2 336.5h-7.1M1007.2 257.27h-7.1M1007.2 178.05h-7.1M1007.2 98.83h-7.1" stroke="#000" stroke-width="1.9" fill="none"/>
<text class="tk" transform="translate(1041.85 645.3) scale(0.987 1.025)" text-anchor="middle">−5</text>
<text class="tk" transform="translate(1180.04 645.3) scale(0.987 1.025)" text-anchor="middle">−4</text>
<text class="tk" transform="translate(1318.23 645.3) scale(0.987 1.025)" text-anchor="middle">−3</text>
<text class="tk" transform="translate(1456.42 645.3) scale(0.987 1.025)" text-anchor="middle">−2</text>
<text class="tk" transform="translate(1594.61 645.3) scale(0.987 1.025)" text-anchor="middle">−1</text>
<text class="tk" transform="translate(1732.8 645.3) scale(0.987 1.025)" text-anchor="middle">0</text>
<text class="tk" transform="translate(993.4 582.17) scale(0.987 1.025)" text-anchor="end">−0.75</text>
<text class="tk" transform="translate(993.4 502.95) scale(0.987 1.025)" text-anchor="end">−0.50</text>
<text class="tk" transform="translate(993.4 423.73) scale(0.987 1.025)" text-anchor="end">−0.25</text>
<text class="tk" transform="translate(993.4 344.5) scale(0.987 1.025)" text-anchor="end">0.00</text>
<text class="tk" transform="translate(993.4 265.27) scale(0.987 1.025)" text-anchor="end">0.25</text>
<text class="tk" transform="translate(993.4 186.05) scale(0.987 1.025)" text-anchor="end">0.50</text>
<text class="tk" transform="translate(993.4 106.83) scale(0.987 1.025)" text-anchor="end">0.75</text>
<text class="lab" transform="translate(1387.3 671.5) scale(1 1.02)" text-anchor="middle">log(Lambda)</text>
<text class="lab" transform="translate(921 328.37) rotate(-90) scale(1 1.02)" text-anchor="middle">Coefficients</text>
</svg></body></html>
